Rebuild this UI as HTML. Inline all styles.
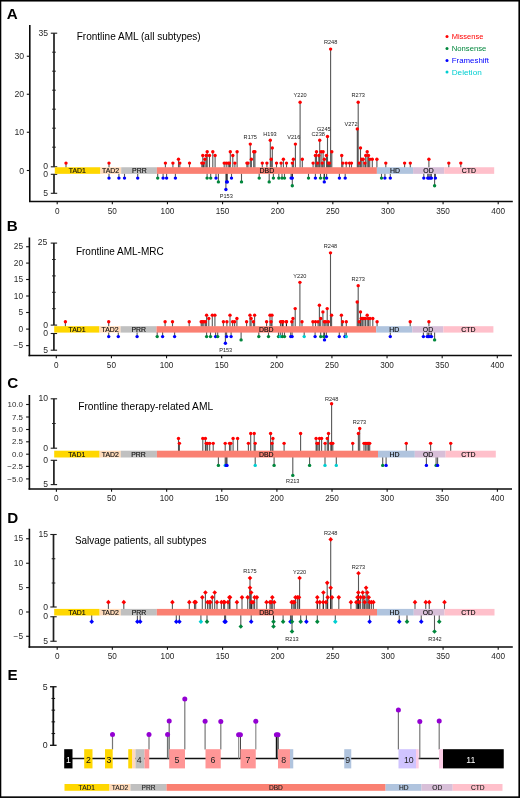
<!DOCTYPE html><html><head><meta charset="utf-8"><style>html,body{margin:0;padding:0;background:#fff;width:520px;height:798px;overflow:hidden}svg{display:block;will-change:transform}</style></head><body><svg width="520" height="798" viewBox="0 0 520 798" font-family='"Liberation Sans", sans-serif'>
<rect width="520" height="798" fill="#fff"/>
<text x="6.8" y="19" font-size="15.2" font-weight="bold" fill="#000">A</text>
<line x1="29.8" y1="25" x2="29.8" y2="202.1" stroke="#0a0a0a" stroke-width="1.6"/>
<line x1="29.0" y1="201.4" x2="512.8" y2="201.4" stroke="#0a0a0a" stroke-width="1.5"/>
<line x1="26.8" y1="56.25" x2="29.8" y2="56.25" stroke="#111" stroke-width="1.1"/>
<text x="24.2" y="59.25" font-size="8.7" text-anchor="end" fill="#2a2a2a">30</text>
<line x1="26.8" y1="94.25" x2="29.8" y2="94.25" stroke="#111" stroke-width="1.1"/>
<text x="24.2" y="97.25" font-size="8.7" text-anchor="end" fill="#2a2a2a">20</text>
<line x1="26.8" y1="132.25" x2="29.8" y2="132.25" stroke="#111" stroke-width="1.1"/>
<text x="24.2" y="135.25" font-size="8.7" text-anchor="end" fill="#2a2a2a">10</text>
<line x1="26.8" y1="170.5" x2="29.8" y2="170.5" stroke="#111" stroke-width="1.1"/>
<text x="24.2" y="173.5" font-size="8.7" text-anchor="end" fill="#2a2a2a">0</text>
<line x1="57.2" y1="201.4" x2="57.2" y2="204.20000000000002" stroke="#111" stroke-width="1.1"/>
<text x="57.2" y="213.5" font-size="8.2" text-anchor="middle" fill="#262626">0</text>
<line x1="112.325" y1="201.4" x2="112.325" y2="204.20000000000002" stroke="#111" stroke-width="1.1"/>
<text x="112.325" y="213.5" font-size="8.2" text-anchor="middle" fill="#262626">50</text>
<line x1="167.45" y1="201.4" x2="167.45" y2="204.20000000000002" stroke="#111" stroke-width="1.1"/>
<text x="167.45" y="213.5" font-size="8.2" text-anchor="middle" fill="#262626">100</text>
<line x1="222.575" y1="201.4" x2="222.575" y2="204.20000000000002" stroke="#111" stroke-width="1.1"/>
<text x="222.575" y="213.5" font-size="8.2" text-anchor="middle" fill="#262626">150</text>
<line x1="277.7" y1="201.4" x2="277.7" y2="204.20000000000002" stroke="#111" stroke-width="1.1"/>
<text x="277.7" y="213.5" font-size="8.2" text-anchor="middle" fill="#262626">200</text>
<line x1="332.825" y1="201.4" x2="332.825" y2="204.20000000000002" stroke="#111" stroke-width="1.1"/>
<text x="332.825" y="213.5" font-size="8.2" text-anchor="middle" fill="#262626">250</text>
<line x1="387.95" y1="201.4" x2="387.95" y2="204.20000000000002" stroke="#111" stroke-width="1.1"/>
<text x="387.95" y="213.5" font-size="8.2" text-anchor="middle" fill="#262626">300</text>
<line x1="443.075" y1="201.4" x2="443.075" y2="204.20000000000002" stroke="#111" stroke-width="1.1"/>
<text x="443.075" y="213.5" font-size="8.2" text-anchor="middle" fill="#262626">350</text>
<line x1="498.2" y1="201.4" x2="498.2" y2="204.20000000000002" stroke="#111" stroke-width="1.1"/>
<text x="498.2" y="213.5" font-size="8.2" text-anchor="middle" fill="#262626">400</text>
<line x1="54" y1="33.2" x2="54" y2="166.8" stroke="#1e1e1e" stroke-width="1.7"/>
<line x1="52.2" y1="52.2" x2="55.8" y2="52.2" stroke="#1e1e1e" stroke-width="1"/>
<line x1="52.2" y1="71.2" x2="55.8" y2="71.2" stroke="#1e1e1e" stroke-width="1"/>
<line x1="52.2" y1="90.2" x2="55.8" y2="90.2" stroke="#1e1e1e" stroke-width="1"/>
<line x1="52.2" y1="109.2" x2="55.8" y2="109.2" stroke="#1e1e1e" stroke-width="1"/>
<line x1="52.2" y1="128.2" x2="55.8" y2="128.2" stroke="#1e1e1e" stroke-width="1"/>
<line x1="52.2" y1="147.2" x2="55.8" y2="147.2" stroke="#1e1e1e" stroke-width="1"/>
<line x1="50.8" y1="33.2" x2="57.2" y2="33.2" stroke="#1e1e1e" stroke-width="1.1"/>
<line x1="50.8" y1="166.8" x2="57.2" y2="166.8" stroke="#1e1e1e" stroke-width="1.1"/>
<text x="48" y="35.800000000000004" font-size="8.6" text-anchor="end" fill="#2a2a2a">35</text>
<text x="48" y="169.4" font-size="8.6" text-anchor="end" fill="#2a2a2a">0</text>
<line x1="54" y1="174.3" x2="54" y2="193.3" stroke="#1e1e1e" stroke-width="1.7"/>
<line x1="50.8" y1="174.3" x2="57.2" y2="174.3" stroke="#1e1e1e" stroke-width="1.1"/>
<line x1="50.8" y1="193.3" x2="57.2" y2="193.3" stroke="#1e1e1e" stroke-width="1.1"/>
<text x="48" y="176.9" font-size="8.6" text-anchor="end" fill="#2a2a2a">0</text>
<text x="48" y="195.70000000000002" font-size="8.6" text-anchor="end" fill="#2a2a2a">5</text>
<text x="76.7" y="40.3" font-size="10.2" textLength="124" lengthAdjust="spacingAndGlyphs" fill="#000">Frontline AML (all subtypes)</text>
<line x1="66" y1="167.75" x2="66" y2="163.1" stroke="#000" stroke-width="1.1" stroke-opacity="0.66"/>
<line x1="109" y1="167.75" x2="109" y2="163.1" stroke="#000" stroke-width="1.1" stroke-opacity="0.66"/>
<line x1="165.4" y1="167.75" x2="165.4" y2="163.1" stroke="#000" stroke-width="1.1" stroke-opacity="0.66"/>
<line x1="172.9" y1="167.75" x2="172.9" y2="163.1" stroke="#000" stroke-width="1.1" stroke-opacity="0.66"/>
<line x1="178.5" y1="167.75" x2="178.5" y2="159.3" stroke="#000" stroke-width="1.1" stroke-opacity="0.66"/>
<line x1="179.8" y1="167.75" x2="179.8" y2="163.1" stroke="#000" stroke-width="1.1" stroke-opacity="0.66"/>
<line x1="189.5" y1="167.75" x2="189.5" y2="163.1" stroke="#000" stroke-width="1.1" stroke-opacity="0.66"/>
<line x1="201.8" y1="167.75" x2="201.8" y2="163.1" stroke="#000" stroke-width="1.1" stroke-opacity="0.66"/>
<line x1="203.5" y1="167.75" x2="203.5" y2="163.1" stroke="#000" stroke-width="1.1" stroke-opacity="0.66"/>
<line x1="202.8" y1="167.75" x2="202.8" y2="155.5" stroke="#000" stroke-width="1.1" stroke-opacity="0.66"/>
<line x1="204.9" y1="167.75" x2="204.9" y2="159.3" stroke="#000" stroke-width="1.1" stroke-opacity="0.66"/>
<line x1="206.2" y1="167.75" x2="206.2" y2="155.5" stroke="#000" stroke-width="1.1" stroke-opacity="0.66"/>
<line x1="207.2" y1="167.75" x2="207.2" y2="151.70000000000002" stroke="#000" stroke-width="1.1" stroke-opacity="0.66"/>
<line x1="209.5" y1="167.75" x2="209.5" y2="155.5" stroke="#000" stroke-width="1.1" stroke-opacity="0.66"/>
<line x1="212.8" y1="167.75" x2="212.8" y2="151.70000000000002" stroke="#000" stroke-width="1.1" stroke-opacity="0.66"/>
<line x1="215.1" y1="167.75" x2="215.1" y2="155.5" stroke="#000" stroke-width="1.1" stroke-opacity="0.66"/>
<line x1="224.2" y1="167.75" x2="224.2" y2="163.1" stroke="#000" stroke-width="1.1" stroke-opacity="0.66"/>
<line x1="226.2" y1="167.75" x2="226.2" y2="163.1" stroke="#000" stroke-width="1.1" stroke-opacity="0.66"/>
<line x1="228.2" y1="167.75" x2="228.2" y2="163.1" stroke="#000" stroke-width="1.1" stroke-opacity="0.66"/>
<line x1="229.5" y1="167.75" x2="229.5" y2="163.1" stroke="#000" stroke-width="1.1" stroke-opacity="0.66"/>
<line x1="230.3" y1="167.75" x2="230.3" y2="151.70000000000002" stroke="#000" stroke-width="1.1" stroke-opacity="0.66"/>
<line x1="232.8" y1="167.75" x2="232.8" y2="155.5" stroke="#000" stroke-width="1.1" stroke-opacity="0.66"/>
<line x1="234.9" y1="167.75" x2="234.9" y2="163.1" stroke="#000" stroke-width="1.1" stroke-opacity="0.66"/>
<line x1="237.1" y1="167.75" x2="237.1" y2="151.70000000000002" stroke="#000" stroke-width="1.1" stroke-opacity="0.66"/>
<line x1="246.9" y1="167.75" x2="246.9" y2="163.1" stroke="#000" stroke-width="1.1" stroke-opacity="0.66"/>
<line x1="248" y1="167.75" x2="248" y2="163.1" stroke="#000" stroke-width="1.1" stroke-opacity="0.66"/>
<line x1="250.3" y1="167.75" x2="250.3" y2="144.10000000000002" stroke="#000" stroke-width="1.1" stroke-opacity="0.66"/>
<line x1="251.4" y1="167.75" x2="251.4" y2="159.3" stroke="#000" stroke-width="1.1" stroke-opacity="0.66"/>
<line x1="253.7" y1="167.75" x2="253.7" y2="151.70000000000002" stroke="#000" stroke-width="1.1" stroke-opacity="0.66"/>
<line x1="254.9" y1="167.75" x2="254.9" y2="151.70000000000002" stroke="#000" stroke-width="1.1" stroke-opacity="0.66"/>
<line x1="262.3" y1="167.75" x2="262.3" y2="163.1" stroke="#000" stroke-width="1.1" stroke-opacity="0.66"/>
<line x1="266.9" y1="167.75" x2="266.9" y2="163.1" stroke="#000" stroke-width="1.1" stroke-opacity="0.66"/>
<line x1="270.3" y1="167.75" x2="270.3" y2="140.3" stroke="#000" stroke-width="1.1" stroke-opacity="0.66"/>
<line x1="272.3" y1="167.75" x2="272.3" y2="147.9" stroke="#000" stroke-width="1.1" stroke-opacity="0.66"/>
<line x1="271.2" y1="167.75" x2="271.2" y2="159.3" stroke="#000" stroke-width="1.1" stroke-opacity="0.66"/>
<line x1="276.5" y1="167.75" x2="276.5" y2="163.1" stroke="#000" stroke-width="1.1" stroke-opacity="0.66"/>
<line x1="281.1" y1="167.75" x2="281.1" y2="163.1" stroke="#000" stroke-width="1.1" stroke-opacity="0.66"/>
<line x1="283.4" y1="167.75" x2="283.4" y2="159.3" stroke="#000" stroke-width="1.1" stroke-opacity="0.66"/>
<line x1="286.5" y1="167.75" x2="286.5" y2="163.1" stroke="#000" stroke-width="1.1" stroke-opacity="0.66"/>
<line x1="292.3" y1="167.75" x2="292.3" y2="163.1" stroke="#000" stroke-width="1.1" stroke-opacity="0.66"/>
<line x1="293.4" y1="167.75" x2="293.4" y2="159.3" stroke="#000" stroke-width="1.1" stroke-opacity="0.66"/>
<line x1="295.4" y1="167.75" x2="295.4" y2="144.10000000000002" stroke="#000" stroke-width="1.1" stroke-opacity="0.66"/>
<line x1="300.1" y1="167.75" x2="300.1" y2="102.30000000000001" stroke="#000" stroke-width="1.1" stroke-opacity="0.66"/>
<line x1="302.3" y1="167.75" x2="302.3" y2="159.3" stroke="#000" stroke-width="1.1" stroke-opacity="0.66"/>
<line x1="313.1" y1="167.75" x2="313.1" y2="163.1" stroke="#000" stroke-width="1.1" stroke-opacity="0.66"/>
<line x1="315.4" y1="167.75" x2="315.4" y2="155.5" stroke="#000" stroke-width="1.1" stroke-opacity="0.66"/>
<line x1="316.5" y1="167.75" x2="316.5" y2="151.70000000000002" stroke="#000" stroke-width="1.1" stroke-opacity="0.66"/>
<line x1="317.7" y1="167.75" x2="317.7" y2="163.1" stroke="#000" stroke-width="1.1" stroke-opacity="0.66"/>
<line x1="318.8" y1="167.75" x2="318.8" y2="155.5" stroke="#000" stroke-width="1.1" stroke-opacity="0.66"/>
<line x1="319.7" y1="167.75" x2="319.7" y2="140.3" stroke="#000" stroke-width="1.1" stroke-opacity="0.66"/>
<line x1="321.1" y1="167.75" x2="321.1" y2="151.70000000000002" stroke="#000" stroke-width="1.1" stroke-opacity="0.66"/>
<line x1="322.2" y1="167.75" x2="322.2" y2="163.1" stroke="#000" stroke-width="1.1" stroke-opacity="0.66"/>
<line x1="323.1" y1="167.75" x2="323.1" y2="151.70000000000002" stroke="#000" stroke-width="1.1" stroke-opacity="0.66"/>
<line x1="324.3" y1="167.75" x2="324.3" y2="159.3" stroke="#000" stroke-width="1.1" stroke-opacity="0.66"/>
<line x1="326.5" y1="167.75" x2="326.5" y2="155.5" stroke="#000" stroke-width="1.1" stroke-opacity="0.66"/>
<line x1="327.5" y1="167.75" x2="327.5" y2="136.5" stroke="#000" stroke-width="1.1" stroke-opacity="0.66"/>
<line x1="328.5" y1="167.75" x2="328.5" y2="163.1" stroke="#000" stroke-width="1.1" stroke-opacity="0.66"/>
<line x1="329.5" y1="167.75" x2="329.5" y2="163.1" stroke="#000" stroke-width="1.1" stroke-opacity="0.66"/>
<line x1="330.6" y1="167.75" x2="330.6" y2="49.10000000000001" stroke="#000" stroke-width="1.1" stroke-opacity="0.66"/>
<line x1="331.8" y1="167.75" x2="331.8" y2="151.70000000000002" stroke="#000" stroke-width="1.1" stroke-opacity="0.66"/>
<line x1="341.7" y1="167.75" x2="341.7" y2="155.5" stroke="#000" stroke-width="1.1" stroke-opacity="0.66"/>
<line x1="342.8" y1="167.75" x2="342.8" y2="163.1" stroke="#000" stroke-width="1.1" stroke-opacity="0.66"/>
<line x1="346.2" y1="167.75" x2="346.2" y2="163.1" stroke="#000" stroke-width="1.1" stroke-opacity="0.66"/>
<line x1="349.5" y1="167.75" x2="349.5" y2="163.1" stroke="#000" stroke-width="1.1" stroke-opacity="0.66"/>
<line x1="351.5" y1="167.75" x2="351.5" y2="163.1" stroke="#000" stroke-width="1.1" stroke-opacity="0.66"/>
<line x1="357.3" y1="167.75" x2="357.3" y2="128.9" stroke="#000" stroke-width="1.1" stroke-opacity="0.66"/>
<line x1="358.2" y1="167.75" x2="358.2" y2="102.30000000000001" stroke="#000" stroke-width="1.1" stroke-opacity="0.66"/>
<line x1="359.2" y1="167.75" x2="359.2" y2="163.1" stroke="#000" stroke-width="1.1" stroke-opacity="0.66"/>
<line x1="360.5" y1="167.75" x2="360.5" y2="147.9" stroke="#000" stroke-width="1.1" stroke-opacity="0.66"/>
<line x1="361.7" y1="167.75" x2="361.7" y2="159.3" stroke="#000" stroke-width="1.1" stroke-opacity="0.66"/>
<line x1="363.2" y1="167.75" x2="363.2" y2="159.3" stroke="#000" stroke-width="1.1" stroke-opacity="0.66"/>
<line x1="364.9" y1="167.75" x2="364.9" y2="163.1" stroke="#000" stroke-width="1.1" stroke-opacity="0.66"/>
<line x1="365.7" y1="167.75" x2="365.7" y2="155.5" stroke="#000" stroke-width="1.1" stroke-opacity="0.66"/>
<line x1="367.2" y1="167.75" x2="367.2" y2="151.70000000000002" stroke="#000" stroke-width="1.1" stroke-opacity="0.66"/>
<line x1="368.5" y1="167.75" x2="368.5" y2="155.5" stroke="#000" stroke-width="1.1" stroke-opacity="0.66"/>
<line x1="369.7" y1="167.75" x2="369.7" y2="159.3" stroke="#000" stroke-width="1.1" stroke-opacity="0.66"/>
<line x1="372.3" y1="167.75" x2="372.3" y2="159.3" stroke="#000" stroke-width="1.1" stroke-opacity="0.66"/>
<line x1="376.9" y1="167.75" x2="376.9" y2="159.3" stroke="#000" stroke-width="1.1" stroke-opacity="0.66"/>
<line x1="385.8" y1="167.75" x2="385.8" y2="163.1" stroke="#000" stroke-width="1.1" stroke-opacity="0.66"/>
<line x1="404.6" y1="167.75" x2="404.6" y2="163.1" stroke="#000" stroke-width="1.1" stroke-opacity="0.66"/>
<line x1="410.3" y1="167.75" x2="410.3" y2="163.1" stroke="#000" stroke-width="1.1" stroke-opacity="0.66"/>
<line x1="428.9" y1="167.75" x2="428.9" y2="159.3" stroke="#000" stroke-width="1.1" stroke-opacity="0.66"/>
<line x1="448.8" y1="167.75" x2="448.8" y2="163.1" stroke="#000" stroke-width="1.1" stroke-opacity="0.66"/>
<line x1="460.8" y1="167.75" x2="460.8" y2="163.1" stroke="#000" stroke-width="1.1" stroke-opacity="0.66"/>
<line x1="109" y1="173.35" x2="109" y2="178.10000000000002" stroke="#000" stroke-width="1.1" stroke-opacity="0.66"/>
<line x1="118.9" y1="173.35" x2="118.9" y2="178.10000000000002" stroke="#000" stroke-width="1.1" stroke-opacity="0.66"/>
<line x1="124.5" y1="173.35" x2="124.5" y2="178.10000000000002" stroke="#000" stroke-width="1.1" stroke-opacity="0.66"/>
<line x1="137.7" y1="173.35" x2="137.7" y2="178.10000000000002" stroke="#000" stroke-width="1.1" stroke-opacity="0.66"/>
<line x1="157.7" y1="173.35" x2="157.7" y2="178.10000000000002" stroke="#000" stroke-width="1.1" stroke-opacity="0.66"/>
<line x1="163.1" y1="173.35" x2="163.1" y2="178.10000000000002" stroke="#000" stroke-width="1.1" stroke-opacity="0.66"/>
<line x1="166.6" y1="173.35" x2="166.6" y2="178.10000000000002" stroke="#000" stroke-width="1.1" stroke-opacity="0.66"/>
<line x1="175.4" y1="173.35" x2="175.4" y2="178.10000000000002" stroke="#000" stroke-width="1.1" stroke-opacity="0.66"/>
<line x1="207.1" y1="173.35" x2="207.1" y2="178.10000000000002" stroke="#000" stroke-width="1.1" stroke-opacity="0.66"/>
<line x1="210.7" y1="173.35" x2="210.7" y2="178.10000000000002" stroke="#000" stroke-width="1.1" stroke-opacity="0.66"/>
<line x1="216" y1="173.35" x2="216" y2="178.10000000000002" stroke="#000" stroke-width="1.1" stroke-opacity="0.66"/>
<line x1="218.4" y1="173.35" x2="218.4" y2="181.9" stroke="#000" stroke-width="1.1" stroke-opacity="0.66"/>
<line x1="225.9" y1="173.35" x2="225.9" y2="189.5" stroke="#000" stroke-width="1.1" stroke-opacity="0.66"/>
<line x1="226.6" y1="173.35" x2="226.6" y2="181.9" stroke="#000" stroke-width="1.1" stroke-opacity="0.66"/>
<line x1="227.3" y1="173.35" x2="227.3" y2="181.9" stroke="#000" stroke-width="1.1" stroke-opacity="0.66"/>
<line x1="231.5" y1="173.35" x2="231.5" y2="178.10000000000002" stroke="#000" stroke-width="1.1" stroke-opacity="0.66"/>
<line x1="241.5" y1="173.35" x2="241.5" y2="181.9" stroke="#000" stroke-width="1.1" stroke-opacity="0.66"/>
<line x1="259.2" y1="173.35" x2="259.2" y2="178.10000000000002" stroke="#000" stroke-width="1.1" stroke-opacity="0.66"/>
<line x1="269.2" y1="173.35" x2="269.2" y2="181.9" stroke="#000" stroke-width="1.1" stroke-opacity="0.66"/>
<line x1="273.4" y1="173.35" x2="273.4" y2="178.10000000000002" stroke="#000" stroke-width="1.1" stroke-opacity="0.66"/>
<line x1="278.8" y1="173.35" x2="278.8" y2="178.10000000000002" stroke="#000" stroke-width="1.1" stroke-opacity="0.66"/>
<line x1="282" y1="173.35" x2="282" y2="178.10000000000002" stroke="#000" stroke-width="1.1" stroke-opacity="0.66"/>
<line x1="284.5" y1="173.35" x2="284.5" y2="178.10000000000002" stroke="#000" stroke-width="1.1" stroke-opacity="0.66"/>
<line x1="291.1" y1="173.35" x2="291.1" y2="178.10000000000002" stroke="#000" stroke-width="1.1" stroke-opacity="0.66"/>
<line x1="292.3" y1="173.35" x2="292.3" y2="178.10000000000002" stroke="#000" stroke-width="1.1" stroke-opacity="0.66"/>
<line x1="292.3" y1="173.35" x2="292.3" y2="185.70000000000002" stroke="#000" stroke-width="1.1" stroke-opacity="0.66"/>
<line x1="308.5" y1="173.35" x2="308.5" y2="178.10000000000002" stroke="#000" stroke-width="1.1" stroke-opacity="0.66"/>
<line x1="315.4" y1="173.35" x2="315.4" y2="178.10000000000002" stroke="#000" stroke-width="1.1" stroke-opacity="0.66"/>
<line x1="320.5" y1="173.35" x2="320.5" y2="178.10000000000002" stroke="#000" stroke-width="1.1" stroke-opacity="0.66"/>
<line x1="324.3" y1="173.35" x2="324.3" y2="181.9" stroke="#000" stroke-width="1.1" stroke-opacity="0.66"/>
<line x1="324.3" y1="173.35" x2="324.3" y2="178.10000000000002" stroke="#000" stroke-width="1.1" stroke-opacity="0.66"/>
<line x1="326.6" y1="173.35" x2="326.6" y2="178.10000000000002" stroke="#000" stroke-width="1.1" stroke-opacity="0.66"/>
<line x1="339.4" y1="173.35" x2="339.4" y2="178.10000000000002" stroke="#000" stroke-width="1.1" stroke-opacity="0.66"/>
<line x1="345.2" y1="173.35" x2="345.2" y2="178.10000000000002" stroke="#000" stroke-width="1.1" stroke-opacity="0.66"/>
<line x1="381.5" y1="173.35" x2="381.5" y2="178.10000000000002" stroke="#000" stroke-width="1.1" stroke-opacity="0.66"/>
<line x1="384.9" y1="173.35" x2="384.9" y2="178.10000000000002" stroke="#000" stroke-width="1.1" stroke-opacity="0.66"/>
<line x1="390.3" y1="173.35" x2="390.3" y2="178.10000000000002" stroke="#000" stroke-width="1.1" stroke-opacity="0.66"/>
<line x1="423.8" y1="173.35" x2="423.8" y2="178.10000000000002" stroke="#000" stroke-width="1.1" stroke-opacity="0.66"/>
<line x1="427.7" y1="173.35" x2="427.7" y2="178.10000000000002" stroke="#000" stroke-width="1.1" stroke-opacity="0.66"/>
<line x1="428.9" y1="173.35" x2="428.9" y2="178.10000000000002" stroke="#000" stroke-width="1.1" stroke-opacity="0.66"/>
<line x1="430.2" y1="173.35" x2="430.2" y2="178.10000000000002" stroke="#000" stroke-width="1.1" stroke-opacity="0.66"/>
<line x1="431.4" y1="173.35" x2="431.4" y2="178.10000000000002" stroke="#000" stroke-width="1.1" stroke-opacity="0.66"/>
<line x1="435.4" y1="173.35" x2="435.4" y2="178.10000000000002" stroke="#000" stroke-width="1.1" stroke-opacity="0.66"/>
<line x1="434.6" y1="173.35" x2="434.6" y2="185.70000000000002" stroke="#000" stroke-width="1.1" stroke-opacity="0.66"/>
<rect x="54.80" y="167.25" width="45.60" height="6.60" fill="#ffd700"/>
<rect x="100.40" y="167.25" width="20.80" height="6.60" fill="#ffdab9"/>
<rect x="121.20" y="167.25" width="35.70" height="6.60" fill="#c0c0c0"/>
<rect x="156.90" y="167.25" width="220.00" height="6.60" fill="#fa8072"/>
<rect x="376.90" y="167.25" width="36.20" height="6.60" fill="#b0c4de"/>
<rect x="413.10" y="167.25" width="31.10" height="6.60" fill="#d8bfd8"/>
<rect x="444.20" y="167.25" width="50.00" height="6.60" fill="#ffc0cb"/>
<text x="77.3" y="173.05" font-size="6.9" text-anchor="middle" fill="#111" stroke="#111" stroke-width="0.15">TAD1</text>
<text x="110.6" y="173.05" font-size="6.9" text-anchor="middle" fill="#111" stroke="#111" stroke-width="0.15">TAD2</text>
<text x="139.4" y="173.05" font-size="6.9" text-anchor="middle" fill="#111" stroke="#111" stroke-width="0.15">PRR</text>
<text x="266.9" y="173.05" font-size="6.9" text-anchor="middle" fill="#111" stroke="#111" stroke-width="0.15">DBD</text>
<text x="394.9" y="173.05" font-size="6.9" text-anchor="middle" fill="#111" stroke="#111" stroke-width="0.15">HD</text>
<text x="428.5" y="173.05" font-size="6.9" text-anchor="middle" fill="#111" stroke="#111" stroke-width="0.15">OD</text>
<text x="468.9" y="173.05" font-size="6.9" text-anchor="middle" fill="#111" stroke="#111" stroke-width="0.15">CTD</text>
<circle cx="66.00" cy="163.10" r="1.7" fill="#ff0000"/>
<circle cx="109.00" cy="163.10" r="1.7" fill="#ff0000"/>
<circle cx="165.40" cy="163.10" r="1.7" fill="#ff0000"/>
<circle cx="172.90" cy="163.10" r="1.7" fill="#ff0000"/>
<circle cx="178.50" cy="159.30" r="1.7" fill="#ff0000"/>
<circle cx="179.80" cy="163.10" r="1.7" fill="#ff0000"/>
<circle cx="189.50" cy="163.10" r="1.7" fill="#ff0000"/>
<circle cx="201.80" cy="163.10" r="1.7" fill="#ff0000"/>
<circle cx="203.50" cy="163.10" r="1.7" fill="#ff0000"/>
<circle cx="202.80" cy="155.50" r="1.7" fill="#ff0000"/>
<circle cx="204.90" cy="159.30" r="1.7" fill="#ff0000"/>
<circle cx="206.20" cy="155.50" r="1.7" fill="#ff0000"/>
<circle cx="207.20" cy="151.70" r="1.7" fill="#ff0000"/>
<circle cx="209.50" cy="155.50" r="1.7" fill="#ff0000"/>
<circle cx="212.80" cy="151.70" r="1.7" fill="#ff0000"/>
<circle cx="215.10" cy="155.50" r="1.7" fill="#ff0000"/>
<circle cx="224.20" cy="163.10" r="1.7" fill="#ff0000"/>
<circle cx="226.20" cy="163.10" r="1.7" fill="#ff0000"/>
<circle cx="228.20" cy="163.10" r="1.7" fill="#ff0000"/>
<circle cx="229.50" cy="163.10" r="1.7" fill="#ff0000"/>
<circle cx="230.30" cy="151.70" r="1.7" fill="#ff0000"/>
<circle cx="232.80" cy="155.50" r="1.7" fill="#ff0000"/>
<circle cx="234.90" cy="163.10" r="1.7" fill="#ff0000"/>
<circle cx="237.10" cy="151.70" r="1.7" fill="#ff0000"/>
<circle cx="246.90" cy="163.10" r="1.7" fill="#ff0000"/>
<circle cx="248.00" cy="163.10" r="1.7" fill="#ff0000"/>
<circle cx="250.30" cy="144.10" r="1.7" fill="#ff0000"/>
<circle cx="251.40" cy="159.30" r="1.7" fill="#ff0000"/>
<circle cx="253.70" cy="151.70" r="1.7" fill="#ff0000"/>
<circle cx="254.90" cy="151.70" r="1.7" fill="#ff0000"/>
<circle cx="262.30" cy="163.10" r="1.7" fill="#ff0000"/>
<circle cx="266.90" cy="163.10" r="1.7" fill="#ff0000"/>
<circle cx="270.30" cy="140.30" r="1.7" fill="#ff0000"/>
<circle cx="272.30" cy="147.90" r="1.7" fill="#ff0000"/>
<circle cx="271.20" cy="159.30" r="1.7" fill="#ff0000"/>
<circle cx="276.50" cy="163.10" r="1.7" fill="#ff0000"/>
<circle cx="281.10" cy="163.10" r="1.7" fill="#ff0000"/>
<circle cx="283.40" cy="159.30" r="1.7" fill="#ff0000"/>
<circle cx="286.50" cy="163.10" r="1.7" fill="#ff0000"/>
<circle cx="292.30" cy="163.10" r="1.7" fill="#ff0000"/>
<circle cx="293.40" cy="159.30" r="1.7" fill="#ff0000"/>
<circle cx="295.40" cy="144.10" r="1.7" fill="#ff0000"/>
<circle cx="300.10" cy="102.30" r="1.7" fill="#ff0000"/>
<circle cx="302.30" cy="159.30" r="1.7" fill="#ff0000"/>
<circle cx="313.10" cy="163.10" r="1.7" fill="#ff0000"/>
<circle cx="315.40" cy="155.50" r="1.7" fill="#ff0000"/>
<circle cx="316.50" cy="151.70" r="1.7" fill="#ff0000"/>
<circle cx="317.70" cy="163.10" r="1.7" fill="#ff0000"/>
<circle cx="318.80" cy="155.50" r="1.7" fill="#ff0000"/>
<circle cx="319.70" cy="140.30" r="1.7" fill="#ff0000"/>
<circle cx="321.10" cy="151.70" r="1.7" fill="#ff0000"/>
<circle cx="322.20" cy="163.10" r="1.7" fill="#ff0000"/>
<circle cx="323.10" cy="151.70" r="1.7" fill="#ff0000"/>
<circle cx="324.30" cy="159.30" r="1.7" fill="#ff0000"/>
<circle cx="326.50" cy="155.50" r="1.7" fill="#ff0000"/>
<circle cx="327.50" cy="136.50" r="1.7" fill="#ff0000"/>
<circle cx="328.50" cy="163.10" r="1.7" fill="#ff0000"/>
<circle cx="329.50" cy="163.10" r="1.7" fill="#ff0000"/>
<circle cx="330.60" cy="49.10" r="1.7" fill="#ff0000"/>
<circle cx="331.80" cy="151.70" r="1.7" fill="#ff0000"/>
<circle cx="341.70" cy="155.50" r="1.7" fill="#ff0000"/>
<circle cx="342.80" cy="163.10" r="1.7" fill="#ff0000"/>
<circle cx="346.20" cy="163.10" r="1.7" fill="#ff0000"/>
<circle cx="349.50" cy="163.10" r="1.7" fill="#ff0000"/>
<circle cx="351.50" cy="163.10" r="1.7" fill="#ff0000"/>
<circle cx="357.30" cy="128.90" r="1.7" fill="#ff0000"/>
<circle cx="358.20" cy="102.30" r="1.7" fill="#ff0000"/>
<circle cx="359.20" cy="163.10" r="1.7" fill="#ff0000"/>
<circle cx="360.50" cy="147.90" r="1.7" fill="#ff0000"/>
<circle cx="361.70" cy="159.30" r="1.7" fill="#ff0000"/>
<circle cx="363.20" cy="159.30" r="1.7" fill="#ff0000"/>
<circle cx="364.90" cy="163.10" r="1.7" fill="#ff0000"/>
<circle cx="365.70" cy="155.50" r="1.7" fill="#ff0000"/>
<circle cx="367.20" cy="151.70" r="1.7" fill="#ff0000"/>
<circle cx="368.50" cy="155.50" r="1.7" fill="#ff0000"/>
<circle cx="369.70" cy="159.30" r="1.7" fill="#ff0000"/>
<circle cx="372.30" cy="159.30" r="1.7" fill="#ff0000"/>
<circle cx="376.90" cy="159.30" r="1.7" fill="#ff0000"/>
<circle cx="385.80" cy="163.10" r="1.7" fill="#ff0000"/>
<circle cx="404.60" cy="163.10" r="1.7" fill="#ff0000"/>
<circle cx="410.30" cy="163.10" r="1.7" fill="#ff0000"/>
<circle cx="428.90" cy="159.30" r="1.7" fill="#ff0000"/>
<circle cx="448.80" cy="163.10" r="1.7" fill="#ff0000"/>
<circle cx="460.80" cy="163.10" r="1.7" fill="#ff0000"/>
<circle cx="109.00" cy="178.10" r="1.7" fill="#0000ff"/>
<circle cx="118.90" cy="178.10" r="1.7" fill="#0000ff"/>
<circle cx="124.50" cy="178.10" r="1.7" fill="#0000ff"/>
<circle cx="137.70" cy="178.10" r="1.7" fill="#0000ff"/>
<circle cx="157.70" cy="178.10" r="1.7" fill="#00873c"/>
<circle cx="163.10" cy="178.10" r="1.7" fill="#0000ff"/>
<circle cx="166.60" cy="178.10" r="1.7" fill="#0000ff"/>
<circle cx="175.40" cy="178.10" r="1.7" fill="#0000ff"/>
<circle cx="207.10" cy="178.10" r="1.7" fill="#00873c"/>
<circle cx="210.70" cy="178.10" r="1.7" fill="#00873c"/>
<circle cx="216.00" cy="178.10" r="1.7" fill="#0000ff"/>
<circle cx="218.40" cy="181.90" r="1.7" fill="#00873c"/>
<circle cx="225.90" cy="189.50" r="1.7" fill="#0000ff"/>
<circle cx="226.60" cy="181.90" r="1.7" fill="#0000ff"/>
<circle cx="227.30" cy="181.90" r="1.7" fill="#0000ff"/>
<circle cx="231.50" cy="178.10" r="1.7" fill="#0000ff"/>
<circle cx="241.50" cy="181.90" r="1.7" fill="#00873c"/>
<circle cx="259.20" cy="178.10" r="1.7" fill="#00873c"/>
<circle cx="269.20" cy="181.90" r="1.7" fill="#00873c"/>
<circle cx="273.40" cy="178.10" r="1.7" fill="#00873c"/>
<circle cx="278.80" cy="178.10" r="1.7" fill="#00873c"/>
<circle cx="282.00" cy="178.10" r="1.7" fill="#00873c"/>
<circle cx="284.50" cy="178.10" r="1.7" fill="#00873c"/>
<circle cx="291.10" cy="178.10" r="1.7" fill="#0000ff"/>
<circle cx="292.30" cy="178.10" r="1.7" fill="#0000ff"/>
<circle cx="292.30" cy="185.70" r="1.7" fill="#00873c"/>
<circle cx="308.50" cy="178.10" r="1.7" fill="#00873c"/>
<circle cx="315.40" cy="178.10" r="1.7" fill="#0000ff"/>
<circle cx="320.50" cy="178.10" r="1.7" fill="#00873c"/>
<circle cx="324.30" cy="181.90" r="1.7" fill="#0000ff"/>
<circle cx="324.30" cy="178.10" r="1.7" fill="#00873c"/>
<circle cx="326.60" cy="178.10" r="1.7" fill="#0000ff"/>
<circle cx="339.40" cy="178.10" r="1.7" fill="#0000ff"/>
<circle cx="345.20" cy="178.10" r="1.7" fill="#0000ff"/>
<circle cx="381.50" cy="178.10" r="1.7" fill="#00873c"/>
<circle cx="384.90" cy="178.10" r="1.7" fill="#0000ff"/>
<circle cx="390.30" cy="178.10" r="1.7" fill="#0000ff"/>
<circle cx="423.80" cy="178.10" r="1.7" fill="#0000ff"/>
<circle cx="427.70" cy="178.10" r="1.7" fill="#0000ff"/>
<circle cx="428.90" cy="178.10" r="1.7" fill="#0000ff"/>
<circle cx="430.20" cy="178.10" r="1.7" fill="#0000ff"/>
<circle cx="431.40" cy="178.10" r="1.7" fill="#0000ff"/>
<circle cx="435.40" cy="178.10" r="1.7" fill="#0000ff"/>
<circle cx="434.60" cy="185.70" r="1.7" fill="#00873c"/>
<text x="330.6" y="43.8" font-size="5.6" text-anchor="middle" fill="#222">R248</text>
<text x="300.1" y="97.4" font-size="5.6" text-anchor="middle" fill="#222">Y220</text>
<text x="358.2" y="97.4" font-size="5.6" text-anchor="middle" fill="#222">R273</text>
<text x="250.3" y="139.4" font-size="5.6" text-anchor="middle" fill="#222">R175</text>
<text x="270" y="135.8" font-size="5.6" text-anchor="middle" fill="#222">H193</text>
<text x="293.8" y="139.4" font-size="5.6" text-anchor="middle" fill="#222">V216</text>
<text x="318.2" y="135.8" font-size="5.6" text-anchor="middle" fill="#222">C238</text>
<text x="323.8" y="130.8" font-size="5.6" text-anchor="middle" fill="#222">G245</text>
<text x="351" y="126.2" font-size="5.6" text-anchor="middle" fill="#222">V272</text>
<text x="226.3" y="198.1" font-size="5.6" text-anchor="middle" fill="#222">P153</text>
<text x="6.8" y="231.3" font-size="15.2" font-weight="bold" fill="#000">B</text>
<line x1="29.4" y1="237.5" x2="29.4" y2="356.2" stroke="#0a0a0a" stroke-width="1.6"/>
<line x1="28.599999999999998" y1="355.5" x2="511.9" y2="355.5" stroke="#0a0a0a" stroke-width="1.5"/>
<line x1="26.1" y1="246.75" x2="29.4" y2="246.75" stroke="#111" stroke-width="1.1"/>
<text x="23.0" y="249.4" font-size="8.3" text-anchor="end" fill="#2a2a2a">25</text>
<line x1="26.1" y1="263.1" x2="29.4" y2="263.1" stroke="#111" stroke-width="1.1"/>
<text x="23.0" y="265.75" font-size="8.3" text-anchor="end" fill="#2a2a2a">20</text>
<line x1="26.1" y1="279.5" x2="29.4" y2="279.5" stroke="#111" stroke-width="1.1"/>
<text x="23.0" y="282.15" font-size="8.3" text-anchor="end" fill="#2a2a2a">15</text>
<line x1="26.1" y1="296" x2="29.4" y2="296" stroke="#111" stroke-width="1.1"/>
<text x="23.0" y="298.65" font-size="8.3" text-anchor="end" fill="#2a2a2a">10</text>
<line x1="26.1" y1="312.5" x2="29.4" y2="312.5" stroke="#111" stroke-width="1.1"/>
<text x="23.0" y="315.15" font-size="8.3" text-anchor="end" fill="#2a2a2a">5</text>
<line x1="26.1" y1="329.1" x2="29.4" y2="329.1" stroke="#111" stroke-width="1.1"/>
<text x="23.0" y="331.75" font-size="8.3" text-anchor="end" fill="#2a2a2a">0</text>
<line x1="26.1" y1="345.6" x2="29.4" y2="345.6" stroke="#111" stroke-width="1.1"/>
<text x="23.0" y="348.25" font-size="8.3" text-anchor="end" fill="#2a2a2a">−5</text>
<line x1="56.300000000000004" y1="355.5" x2="56.300000000000004" y2="358.3" stroke="#111" stroke-width="1.1"/>
<text x="56.300000000000004" y="367.6" font-size="8.2" text-anchor="middle" fill="#262626">0</text>
<line x1="111.42500000000001" y1="355.5" x2="111.42500000000001" y2="358.3" stroke="#111" stroke-width="1.1"/>
<text x="111.42500000000001" y="367.6" font-size="8.2" text-anchor="middle" fill="#262626">50</text>
<line x1="166.55" y1="355.5" x2="166.55" y2="358.3" stroke="#111" stroke-width="1.1"/>
<text x="166.55" y="367.6" font-size="8.2" text-anchor="middle" fill="#262626">100</text>
<line x1="221.675" y1="355.5" x2="221.675" y2="358.3" stroke="#111" stroke-width="1.1"/>
<text x="221.675" y="367.6" font-size="8.2" text-anchor="middle" fill="#262626">150</text>
<line x1="276.8" y1="355.5" x2="276.8" y2="358.3" stroke="#111" stroke-width="1.1"/>
<text x="276.8" y="367.6" font-size="8.2" text-anchor="middle" fill="#262626">200</text>
<line x1="331.925" y1="355.5" x2="331.925" y2="358.3" stroke="#111" stroke-width="1.1"/>
<text x="331.925" y="367.6" font-size="8.2" text-anchor="middle" fill="#262626">250</text>
<line x1="387.05" y1="355.5" x2="387.05" y2="358.3" stroke="#111" stroke-width="1.1"/>
<text x="387.05" y="367.6" font-size="8.2" text-anchor="middle" fill="#262626">300</text>
<line x1="442.175" y1="355.5" x2="442.175" y2="358.3" stroke="#111" stroke-width="1.1"/>
<text x="442.175" y="367.6" font-size="8.2" text-anchor="middle" fill="#262626">350</text>
<line x1="497.3" y1="355.5" x2="497.3" y2="358.3" stroke="#111" stroke-width="1.1"/>
<text x="497.3" y="367.6" font-size="8.2" text-anchor="middle" fill="#262626">400</text>
<line x1="53.9" y1="243.1" x2="53.9" y2="325.1" stroke="#1e1e1e" stroke-width="1.7"/>
<line x1="52.1" y1="259.5" x2="55.699999999999996" y2="259.5" stroke="#1e1e1e" stroke-width="1"/>
<line x1="52.1" y1="275.9" x2="55.699999999999996" y2="275.9" stroke="#1e1e1e" stroke-width="1"/>
<line x1="52.1" y1="292.3" x2="55.699999999999996" y2="292.3" stroke="#1e1e1e" stroke-width="1"/>
<line x1="52.1" y1="308.7" x2="55.699999999999996" y2="308.7" stroke="#1e1e1e" stroke-width="1"/>
<line x1="50.699999999999996" y1="243.1" x2="57.1" y2="243.1" stroke="#1e1e1e" stroke-width="1.1"/>
<line x1="50.699999999999996" y1="325.1" x2="57.1" y2="325.1" stroke="#1e1e1e" stroke-width="1.1"/>
<text x="47.4" y="245.0" font-size="8.6" text-anchor="end" fill="#2a2a2a">25</text>
<text x="48" y="327.70000000000005" font-size="8.6" text-anchor="end" fill="#2a2a2a">0</text>
<line x1="53.9" y1="333.5" x2="53.9" y2="350.2" stroke="#1e1e1e" stroke-width="1.7"/>
<line x1="50.699999999999996" y1="333.5" x2="57.1" y2="333.5" stroke="#1e1e1e" stroke-width="1.1"/>
<line x1="50.699999999999996" y1="350.2" x2="57.1" y2="350.2" stroke="#1e1e1e" stroke-width="1.1"/>
<text x="48" y="336.1" font-size="8.6" text-anchor="end" fill="#2a2a2a">0</text>
<text x="48" y="352.59999999999997" font-size="8.6" text-anchor="end" fill="#2a2a2a">5</text>
<text x="75.9" y="254.8" font-size="10.2" textLength="87.8" lengthAdjust="spacingAndGlyphs" fill="#000">Frontline AML-MRC</text>
<line x1="65.4" y1="326.7" x2="65.4" y2="321.72" stroke="#000" stroke-width="1.1" stroke-opacity="0.66"/>
<line x1="108.7" y1="326.7" x2="108.7" y2="321.72" stroke="#000" stroke-width="1.1" stroke-opacity="0.66"/>
<line x1="165.1" y1="326.7" x2="165.1" y2="321.72" stroke="#000" stroke-width="1.1" stroke-opacity="0.66"/>
<line x1="172.5" y1="326.7" x2="172.5" y2="321.72" stroke="#000" stroke-width="1.1" stroke-opacity="0.66"/>
<line x1="189.2" y1="326.7" x2="189.2" y2="321.72" stroke="#000" stroke-width="1.1" stroke-opacity="0.66"/>
<line x1="201.2" y1="326.7" x2="201.2" y2="321.72" stroke="#000" stroke-width="1.1" stroke-opacity="0.66"/>
<line x1="202.3" y1="326.7" x2="202.3" y2="321.72" stroke="#000" stroke-width="1.1" stroke-opacity="0.66"/>
<line x1="203.8" y1="326.7" x2="203.8" y2="321.72" stroke="#000" stroke-width="1.1" stroke-opacity="0.66"/>
<line x1="205.4" y1="326.7" x2="205.4" y2="321.72" stroke="#000" stroke-width="1.1" stroke-opacity="0.66"/>
<line x1="206.6" y1="326.7" x2="206.6" y2="315.16" stroke="#000" stroke-width="1.1" stroke-opacity="0.66"/>
<line x1="208.8" y1="326.7" x2="208.8" y2="318.44" stroke="#000" stroke-width="1.1" stroke-opacity="0.66"/>
<line x1="212.3" y1="326.7" x2="212.3" y2="315.16" stroke="#000" stroke-width="1.1" stroke-opacity="0.66"/>
<line x1="214.9" y1="326.7" x2="214.9" y2="315.16" stroke="#000" stroke-width="1.1" stroke-opacity="0.66"/>
<line x1="223.4" y1="326.7" x2="223.4" y2="321.72" stroke="#000" stroke-width="1.1" stroke-opacity="0.66"/>
<line x1="226.9" y1="326.7" x2="226.9" y2="321.72" stroke="#000" stroke-width="1.1" stroke-opacity="0.66"/>
<line x1="230" y1="326.7" x2="230" y2="315.16" stroke="#000" stroke-width="1.1" stroke-opacity="0.66"/>
<line x1="232.6" y1="326.7" x2="232.6" y2="321.72" stroke="#000" stroke-width="1.1" stroke-opacity="0.66"/>
<line x1="234.6" y1="326.7" x2="234.6" y2="321.72" stroke="#000" stroke-width="1.1" stroke-opacity="0.66"/>
<line x1="236.9" y1="326.7" x2="236.9" y2="318.44" stroke="#000" stroke-width="1.1" stroke-opacity="0.66"/>
<line x1="246.6" y1="326.7" x2="246.6" y2="321.72" stroke="#000" stroke-width="1.1" stroke-opacity="0.66"/>
<line x1="250" y1="326.7" x2="250" y2="315.16" stroke="#000" stroke-width="1.1" stroke-opacity="0.66"/>
<line x1="251.1" y1="326.7" x2="251.1" y2="318.44" stroke="#000" stroke-width="1.1" stroke-opacity="0.66"/>
<line x1="253.4" y1="326.7" x2="253.4" y2="321.72" stroke="#000" stroke-width="1.1" stroke-opacity="0.66"/>
<line x1="254.6" y1="326.7" x2="254.6" y2="315.16" stroke="#000" stroke-width="1.1" stroke-opacity="0.66"/>
<line x1="266.6" y1="326.7" x2="266.6" y2="321.72" stroke="#000" stroke-width="1.1" stroke-opacity="0.66"/>
<line x1="270" y1="326.7" x2="270" y2="315.16" stroke="#000" stroke-width="1.1" stroke-opacity="0.66"/>
<line x1="271.1" y1="326.7" x2="271.1" y2="321.72" stroke="#000" stroke-width="1.1" stroke-opacity="0.66"/>
<line x1="272" y1="326.7" x2="272" y2="315.16" stroke="#000" stroke-width="1.1" stroke-opacity="0.66"/>
<line x1="280.5" y1="326.7" x2="280.5" y2="321.72" stroke="#000" stroke-width="1.1" stroke-opacity="0.66"/>
<line x1="282" y1="326.7" x2="282" y2="321.72" stroke="#000" stroke-width="1.1" stroke-opacity="0.66"/>
<line x1="283.1" y1="326.7" x2="283.1" y2="321.72" stroke="#000" stroke-width="1.1" stroke-opacity="0.66"/>
<line x1="286.5" y1="326.7" x2="286.5" y2="321.72" stroke="#000" stroke-width="1.1" stroke-opacity="0.66"/>
<line x1="282.6" y1="326.7" x2="282.6" y2="321.72" stroke="#000" stroke-width="1.1" stroke-opacity="0.66"/>
<line x1="286.4" y1="326.7" x2="286.4" y2="321.72" stroke="#000" stroke-width="1.1" stroke-opacity="0.66"/>
<line x1="291.8" y1="326.7" x2="291.8" y2="321.72" stroke="#000" stroke-width="1.1" stroke-opacity="0.66"/>
<line x1="293" y1="326.7" x2="293" y2="318.44" stroke="#000" stroke-width="1.1" stroke-opacity="0.66"/>
<line x1="295.2" y1="326.7" x2="295.2" y2="308.6" stroke="#000" stroke-width="1.1" stroke-opacity="0.66"/>
<line x1="299.9" y1="326.7" x2="299.9" y2="282.36" stroke="#000" stroke-width="1.1" stroke-opacity="0.66"/>
<line x1="302" y1="326.7" x2="302" y2="321.72" stroke="#000" stroke-width="1.1" stroke-opacity="0.66"/>
<line x1="312.9" y1="326.7" x2="312.9" y2="321.72" stroke="#000" stroke-width="1.1" stroke-opacity="0.66"/>
<line x1="315.5" y1="326.7" x2="315.5" y2="321.72" stroke="#000" stroke-width="1.1" stroke-opacity="0.66"/>
<line x1="318.1" y1="326.7" x2="318.1" y2="321.72" stroke="#000" stroke-width="1.1" stroke-opacity="0.66"/>
<line x1="319.4" y1="326.7" x2="319.4" y2="305.32" stroke="#000" stroke-width="1.1" stroke-opacity="0.66"/>
<line x1="320.7" y1="326.7" x2="320.7" y2="318.44" stroke="#000" stroke-width="1.1" stroke-opacity="0.66"/>
<line x1="322.9" y1="326.7" x2="322.9" y2="311.88" stroke="#000" stroke-width="1.1" stroke-opacity="0.66"/>
<line x1="324.3" y1="326.7" x2="324.3" y2="321.72" stroke="#000" stroke-width="1.1" stroke-opacity="0.66"/>
<line x1="325.8" y1="326.7" x2="325.8" y2="321.72" stroke="#000" stroke-width="1.1" stroke-opacity="0.66"/>
<line x1="327.2" y1="326.7" x2="327.2" y2="308.6" stroke="#000" stroke-width="1.1" stroke-opacity="0.66"/>
<line x1="328.4" y1="326.7" x2="328.4" y2="321.72" stroke="#000" stroke-width="1.1" stroke-opacity="0.66"/>
<line x1="330.5" y1="326.7" x2="330.5" y2="252.84" stroke="#000" stroke-width="1.1" stroke-opacity="0.66"/>
<line x1="331.6" y1="326.7" x2="331.6" y2="315.16" stroke="#000" stroke-width="1.1" stroke-opacity="0.66"/>
<line x1="341.4" y1="326.7" x2="341.4" y2="315.16" stroke="#000" stroke-width="1.1" stroke-opacity="0.66"/>
<line x1="342.6" y1="326.7" x2="342.6" y2="321.72" stroke="#000" stroke-width="1.1" stroke-opacity="0.66"/>
<line x1="346.3" y1="326.7" x2="346.3" y2="321.72" stroke="#000" stroke-width="1.1" stroke-opacity="0.66"/>
<line x1="357.2" y1="326.7" x2="357.2" y2="302.04" stroke="#000" stroke-width="1.1" stroke-opacity="0.66"/>
<line x1="358.2" y1="326.7" x2="358.2" y2="285.64" stroke="#000" stroke-width="1.1" stroke-opacity="0.66"/>
<line x1="359.2" y1="326.7" x2="359.2" y2="321.72" stroke="#000" stroke-width="1.1" stroke-opacity="0.66"/>
<line x1="360.5" y1="326.7" x2="360.5" y2="311.88" stroke="#000" stroke-width="1.1" stroke-opacity="0.66"/>
<line x1="361.2" y1="326.7" x2="361.2" y2="318.44" stroke="#000" stroke-width="1.1" stroke-opacity="0.66"/>
<line x1="362.6" y1="326.7" x2="362.6" y2="318.44" stroke="#000" stroke-width="1.1" stroke-opacity="0.66"/>
<line x1="364" y1="326.7" x2="364" y2="318.44" stroke="#000" stroke-width="1.1" stroke-opacity="0.66"/>
<line x1="365.5" y1="326.7" x2="365.5" y2="318.44" stroke="#000" stroke-width="1.1" stroke-opacity="0.66"/>
<line x1="367.2" y1="326.7" x2="367.2" y2="315.16" stroke="#000" stroke-width="1.1" stroke-opacity="0.66"/>
<line x1="368.5" y1="326.7" x2="368.5" y2="318.44" stroke="#000" stroke-width="1.1" stroke-opacity="0.66"/>
<line x1="370" y1="326.7" x2="370" y2="318.44" stroke="#000" stroke-width="1.1" stroke-opacity="0.66"/>
<line x1="372.8" y1="326.7" x2="372.8" y2="318.44" stroke="#000" stroke-width="1.1" stroke-opacity="0.66"/>
<line x1="377.1" y1="326.7" x2="377.1" y2="321.72" stroke="#000" stroke-width="1.1" stroke-opacity="0.66"/>
<line x1="410.2" y1="326.7" x2="410.2" y2="321.72" stroke="#000" stroke-width="1.1" stroke-opacity="0.66"/>
<line x1="428.9" y1="326.7" x2="428.9" y2="321.72" stroke="#000" stroke-width="1.1" stroke-opacity="0.66"/>
<line x1="108.7" y1="332.1" x2="108.7" y2="336.6" stroke="#000" stroke-width="1.1" stroke-opacity="0.66"/>
<line x1="118.3" y1="332.1" x2="118.3" y2="336.6" stroke="#000" stroke-width="1.1" stroke-opacity="0.66"/>
<line x1="137.1" y1="332.1" x2="137.1" y2="336.6" stroke="#000" stroke-width="1.1" stroke-opacity="0.66"/>
<line x1="157.2" y1="332.1" x2="157.2" y2="336.6" stroke="#000" stroke-width="1.1" stroke-opacity="0.66"/>
<line x1="162.6" y1="332.1" x2="162.6" y2="336.6" stroke="#000" stroke-width="1.1" stroke-opacity="0.66"/>
<line x1="174.6" y1="332.1" x2="174.6" y2="336.6" stroke="#000" stroke-width="1.1" stroke-opacity="0.66"/>
<line x1="206.6" y1="332.1" x2="206.6" y2="336.6" stroke="#000" stroke-width="1.1" stroke-opacity="0.66"/>
<line x1="210.5" y1="332.1" x2="210.5" y2="336.6" stroke="#000" stroke-width="1.1" stroke-opacity="0.66"/>
<line x1="215.6" y1="332.1" x2="215.6" y2="336.6" stroke="#000" stroke-width="1.1" stroke-opacity="0.66"/>
<line x1="217.7" y1="332.1" x2="217.7" y2="336.6" stroke="#000" stroke-width="1.1" stroke-opacity="0.66"/>
<line x1="225.4" y1="332.1" x2="225.4" y2="343.2" stroke="#000" stroke-width="1.1" stroke-opacity="0.66"/>
<line x1="226.6" y1="332.1" x2="226.6" y2="336.6" stroke="#000" stroke-width="1.1" stroke-opacity="0.66"/>
<line x1="231.1" y1="332.1" x2="231.1" y2="336.6" stroke="#000" stroke-width="1.1" stroke-opacity="0.66"/>
<line x1="241.1" y1="332.1" x2="241.1" y2="339.90000000000003" stroke="#000" stroke-width="1.1" stroke-opacity="0.66"/>
<line x1="258.8" y1="332.1" x2="258.8" y2="336.6" stroke="#000" stroke-width="1.1" stroke-opacity="0.66"/>
<line x1="268.5" y1="332.1" x2="268.5" y2="336.6" stroke="#000" stroke-width="1.1" stroke-opacity="0.66"/>
<line x1="278.5" y1="332.1" x2="278.5" y2="336.6" stroke="#000" stroke-width="1.1" stroke-opacity="0.66"/>
<line x1="280.3" y1="332.1" x2="280.3" y2="336.6" stroke="#000" stroke-width="1.1" stroke-opacity="0.66"/>
<line x1="282.3" y1="332.1" x2="282.3" y2="336.6" stroke="#000" stroke-width="1.1" stroke-opacity="0.66"/>
<line x1="284.5" y1="332.1" x2="284.5" y2="336.6" stroke="#000" stroke-width="1.1" stroke-opacity="0.66"/>
<line x1="290.7" y1="332.1" x2="290.7" y2="336.6" stroke="#000" stroke-width="1.1" stroke-opacity="0.66"/>
<line x1="292.1" y1="332.1" x2="292.1" y2="336.6" stroke="#000" stroke-width="1.1" stroke-opacity="0.66"/>
<line x1="304.2" y1="332.1" x2="304.2" y2="336.6" stroke="#000" stroke-width="1.1" stroke-opacity="0.66"/>
<line x1="315.1" y1="332.1" x2="315.1" y2="336.6" stroke="#000" stroke-width="1.1" stroke-opacity="0.66"/>
<line x1="320.7" y1="332.1" x2="320.7" y2="336.6" stroke="#000" stroke-width="1.1" stroke-opacity="0.66"/>
<line x1="323.8" y1="332.1" x2="323.8" y2="336.6" stroke="#000" stroke-width="1.1" stroke-opacity="0.66"/>
<line x1="324.5" y1="332.1" x2="324.5" y2="339.90000000000003" stroke="#000" stroke-width="1.1" stroke-opacity="0.66"/>
<line x1="326.4" y1="332.1" x2="326.4" y2="336.6" stroke="#000" stroke-width="1.1" stroke-opacity="0.66"/>
<line x1="339.3" y1="332.1" x2="339.3" y2="336.6" stroke="#000" stroke-width="1.1" stroke-opacity="0.66"/>
<line x1="344.9" y1="332.1" x2="344.9" y2="336.6" stroke="#000" stroke-width="1.1" stroke-opacity="0.66"/>
<line x1="346.3" y1="332.1" x2="346.3" y2="336.6" stroke="#000" stroke-width="1.1" stroke-opacity="0.66"/>
<line x1="390.3" y1="332.1" x2="390.3" y2="336.6" stroke="#000" stroke-width="1.1" stroke-opacity="0.66"/>
<line x1="423.4" y1="332.1" x2="423.4" y2="336.6" stroke="#000" stroke-width="1.1" stroke-opacity="0.66"/>
<line x1="427.2" y1="332.1" x2="427.2" y2="336.6" stroke="#000" stroke-width="1.1" stroke-opacity="0.66"/>
<line x1="428.5" y1="332.1" x2="428.5" y2="336.6" stroke="#000" stroke-width="1.1" stroke-opacity="0.66"/>
<line x1="430" y1="332.1" x2="430" y2="336.6" stroke="#000" stroke-width="1.1" stroke-opacity="0.66"/>
<line x1="431.5" y1="332.1" x2="431.5" y2="336.6" stroke="#000" stroke-width="1.1" stroke-opacity="0.66"/>
<line x1="434.6" y1="332.1" x2="434.6" y2="339.90000000000003" stroke="#000" stroke-width="1.1" stroke-opacity="0.66"/>
<rect x="54.20" y="326.20" width="45.20" height="6.40" fill="#ffd700"/>
<rect x="99.40" y="326.20" width="21.20" height="6.40" fill="#ffdab9"/>
<rect x="120.60" y="326.20" width="35.90" height="6.40" fill="#c0c0c0"/>
<rect x="156.50" y="326.20" width="219.70" height="6.40" fill="#fa8072"/>
<rect x="376.20" y="326.20" width="36.10" height="6.40" fill="#b0c4de"/>
<rect x="412.30" y="326.20" width="31.10" height="6.40" fill="#d8bfd8"/>
<rect x="443.40" y="326.20" width="50.00" height="6.40" fill="#ffc0cb"/>
<text x="77" y="331.9" font-size="6.9" text-anchor="middle" fill="#111" stroke="#111" stroke-width="0.15">TAD1</text>
<text x="110" y="331.9" font-size="6.9" text-anchor="middle" fill="#111" stroke="#111" stroke-width="0.15">TAD2</text>
<text x="138.8" y="331.9" font-size="6.9" text-anchor="middle" fill="#111" stroke="#111" stroke-width="0.15">PRR</text>
<text x="266.2" y="331.9" font-size="6.9" text-anchor="middle" fill="#111" stroke="#111" stroke-width="0.15">DBD</text>
<text x="394.3" y="331.9" font-size="6.9" text-anchor="middle" fill="#111" stroke="#111" stroke-width="0.15">HD</text>
<text x="428" y="331.9" font-size="6.9" text-anchor="middle" fill="#111" stroke="#111" stroke-width="0.15">OD</text>
<text x="468.4" y="331.9" font-size="6.9" text-anchor="middle" fill="#111" stroke="#111" stroke-width="0.15">CTD</text>
<circle cx="65.40" cy="321.72" r="1.7" fill="#ff0000"/>
<circle cx="108.70" cy="321.72" r="1.7" fill="#ff0000"/>
<circle cx="165.10" cy="321.72" r="1.7" fill="#ff0000"/>
<circle cx="172.50" cy="321.72" r="1.7" fill="#ff0000"/>
<circle cx="189.20" cy="321.72" r="1.7" fill="#ff0000"/>
<circle cx="201.20" cy="321.72" r="1.7" fill="#ff0000"/>
<circle cx="202.30" cy="321.72" r="1.7" fill="#ff0000"/>
<circle cx="203.80" cy="321.72" r="1.7" fill="#ff0000"/>
<circle cx="205.40" cy="321.72" r="1.7" fill="#ff0000"/>
<circle cx="206.60" cy="315.16" r="1.7" fill="#ff0000"/>
<circle cx="208.80" cy="318.44" r="1.7" fill="#ff0000"/>
<circle cx="212.30" cy="315.16" r="1.7" fill="#ff0000"/>
<circle cx="214.90" cy="315.16" r="1.7" fill="#ff0000"/>
<circle cx="223.40" cy="321.72" r="1.7" fill="#ff0000"/>
<circle cx="226.90" cy="321.72" r="1.7" fill="#ff0000"/>
<circle cx="230.00" cy="315.16" r="1.7" fill="#ff0000"/>
<circle cx="232.60" cy="321.72" r="1.7" fill="#ff0000"/>
<circle cx="234.60" cy="321.72" r="1.7" fill="#ff0000"/>
<circle cx="236.90" cy="318.44" r="1.7" fill="#ff0000"/>
<circle cx="246.60" cy="321.72" r="1.7" fill="#ff0000"/>
<circle cx="250.00" cy="315.16" r="1.7" fill="#ff0000"/>
<circle cx="251.10" cy="318.44" r="1.7" fill="#ff0000"/>
<circle cx="253.40" cy="321.72" r="1.7" fill="#ff0000"/>
<circle cx="254.60" cy="315.16" r="1.7" fill="#ff0000"/>
<circle cx="266.60" cy="321.72" r="1.7" fill="#ff0000"/>
<circle cx="270.00" cy="315.16" r="1.7" fill="#ff0000"/>
<circle cx="271.10" cy="321.72" r="1.7" fill="#ff0000"/>
<circle cx="272.00" cy="315.16" r="1.7" fill="#ff0000"/>
<circle cx="280.50" cy="321.72" r="1.7" fill="#ff0000"/>
<circle cx="282.00" cy="321.72" r="1.7" fill="#ff0000"/>
<circle cx="283.10" cy="321.72" r="1.7" fill="#ff0000"/>
<circle cx="286.50" cy="321.72" r="1.7" fill="#ff0000"/>
<circle cx="282.60" cy="321.72" r="1.7" fill="#ff0000"/>
<circle cx="286.40" cy="321.72" r="1.7" fill="#ff0000"/>
<circle cx="291.80" cy="321.72" r="1.7" fill="#ff0000"/>
<circle cx="293.00" cy="318.44" r="1.7" fill="#ff0000"/>
<circle cx="295.20" cy="308.60" r="1.7" fill="#ff0000"/>
<circle cx="299.90" cy="282.36" r="1.7" fill="#ff0000"/>
<circle cx="302.00" cy="321.72" r="1.7" fill="#ff0000"/>
<circle cx="312.90" cy="321.72" r="1.7" fill="#ff0000"/>
<circle cx="315.50" cy="321.72" r="1.7" fill="#ff0000"/>
<circle cx="318.10" cy="321.72" r="1.7" fill="#ff0000"/>
<circle cx="319.40" cy="305.32" r="1.7" fill="#ff0000"/>
<circle cx="320.70" cy="318.44" r="1.7" fill="#ff0000"/>
<circle cx="322.90" cy="311.88" r="1.7" fill="#ff0000"/>
<circle cx="324.30" cy="321.72" r="1.7" fill="#ff0000"/>
<circle cx="325.80" cy="321.72" r="1.7" fill="#ff0000"/>
<circle cx="327.20" cy="308.60" r="1.7" fill="#ff0000"/>
<circle cx="328.40" cy="321.72" r="1.7" fill="#ff0000"/>
<circle cx="330.50" cy="252.84" r="1.7" fill="#ff0000"/>
<circle cx="331.60" cy="315.16" r="1.7" fill="#ff0000"/>
<circle cx="341.40" cy="315.16" r="1.7" fill="#ff0000"/>
<circle cx="342.60" cy="321.72" r="1.7" fill="#ff0000"/>
<circle cx="346.30" cy="321.72" r="1.7" fill="#ff0000"/>
<circle cx="357.20" cy="302.04" r="1.7" fill="#ff0000"/>
<circle cx="358.20" cy="285.64" r="1.7" fill="#ff0000"/>
<circle cx="359.20" cy="321.72" r="1.7" fill="#ff0000"/>
<circle cx="360.50" cy="311.88" r="1.7" fill="#ff0000"/>
<circle cx="361.20" cy="318.44" r="1.7" fill="#ff0000"/>
<circle cx="362.60" cy="318.44" r="1.7" fill="#ff0000"/>
<circle cx="364.00" cy="318.44" r="1.7" fill="#ff0000"/>
<circle cx="365.50" cy="318.44" r="1.7" fill="#ff0000"/>
<circle cx="367.20" cy="315.16" r="1.7" fill="#ff0000"/>
<circle cx="368.50" cy="318.44" r="1.7" fill="#ff0000"/>
<circle cx="370.00" cy="318.44" r="1.7" fill="#ff0000"/>
<circle cx="372.80" cy="318.44" r="1.7" fill="#ff0000"/>
<circle cx="377.10" cy="321.72" r="1.7" fill="#ff0000"/>
<circle cx="410.20" cy="321.72" r="1.7" fill="#ff0000"/>
<circle cx="428.90" cy="321.72" r="1.7" fill="#ff0000"/>
<circle cx="108.70" cy="336.60" r="1.7" fill="#0000ff"/>
<circle cx="118.30" cy="336.60" r="1.7" fill="#0000ff"/>
<circle cx="137.10" cy="336.60" r="1.7" fill="#0000ff"/>
<circle cx="157.20" cy="336.60" r="1.7" fill="#00873c"/>
<circle cx="162.60" cy="336.60" r="1.7" fill="#0000ff"/>
<circle cx="174.60" cy="336.60" r="1.7" fill="#0000ff"/>
<circle cx="206.60" cy="336.60" r="1.7" fill="#00873c"/>
<circle cx="210.50" cy="336.60" r="1.7" fill="#00873c"/>
<circle cx="215.60" cy="336.60" r="1.7" fill="#0000ff"/>
<circle cx="217.70" cy="336.60" r="1.7" fill="#00873c"/>
<circle cx="225.40" cy="343.20" r="1.7" fill="#0000ff"/>
<circle cx="226.60" cy="336.60" r="1.7" fill="#0000ff"/>
<circle cx="231.10" cy="336.60" r="1.7" fill="#0000ff"/>
<circle cx="241.10" cy="339.90" r="1.7" fill="#00873c"/>
<circle cx="258.80" cy="336.60" r="1.7" fill="#00873c"/>
<circle cx="268.50" cy="336.60" r="1.7" fill="#00873c"/>
<circle cx="278.50" cy="336.60" r="1.7" fill="#00873c"/>
<circle cx="280.30" cy="336.60" r="1.7" fill="#00ced1"/>
<circle cx="282.30" cy="336.60" r="1.7" fill="#00873c"/>
<circle cx="284.50" cy="336.60" r="1.7" fill="#00873c"/>
<circle cx="290.70" cy="336.60" r="1.7" fill="#0000ff"/>
<circle cx="292.10" cy="336.60" r="1.7" fill="#0000ff"/>
<circle cx="304.20" cy="336.60" r="1.7" fill="#00ced1"/>
<circle cx="315.10" cy="336.60" r="1.7" fill="#0000ff"/>
<circle cx="320.70" cy="336.60" r="1.7" fill="#00873c"/>
<circle cx="323.80" cy="336.60" r="1.7" fill="#00873c"/>
<circle cx="324.50" cy="339.90" r="1.7" fill="#0000ff"/>
<circle cx="326.40" cy="336.60" r="1.7" fill="#0000ff"/>
<circle cx="339.30" cy="336.60" r="1.7" fill="#0000ff"/>
<circle cx="344.90" cy="336.60" r="1.7" fill="#0000ff"/>
<circle cx="346.30" cy="336.60" r="1.7" fill="#00ced1"/>
<circle cx="390.30" cy="336.60" r="1.7" fill="#0000ff"/>
<circle cx="423.40" cy="336.60" r="1.7" fill="#0000ff"/>
<circle cx="427.20" cy="336.60" r="1.7" fill="#0000ff"/>
<circle cx="428.50" cy="336.60" r="1.7" fill="#0000ff"/>
<circle cx="430.00" cy="336.60" r="1.7" fill="#0000ff"/>
<circle cx="431.50" cy="336.60" r="1.7" fill="#0000ff"/>
<circle cx="434.60" cy="339.90" r="1.7" fill="#00873c"/>
<text x="330.5" y="248.4" font-size="5.6" text-anchor="middle" fill="#222">R248</text>
<text x="299.9" y="277.8" font-size="5.6" text-anchor="middle" fill="#222">Y220</text>
<text x="358.2" y="281.3" font-size="5.6" text-anchor="middle" fill="#222">R273</text>
<text x="225.7" y="352.0" font-size="5.6" text-anchor="middle" fill="#222">P153</text>
<text x="7.2" y="388" font-size="15.2" font-weight="bold" fill="#000">C</text>
<line x1="29.4" y1="395" x2="29.4" y2="489.59999999999997" stroke="#0a0a0a" stroke-width="1.6"/>
<line x1="28.599999999999998" y1="488.9" x2="511.99999999999994" y2="488.9" stroke="#0a0a0a" stroke-width="1.5"/>
<line x1="26.1" y1="404.5" x2="29.4" y2="404.5" stroke="#111" stroke-width="1.1"/>
<text x="22.9" y="407.1" font-size="7.9" text-anchor="end" fill="#2a2a2a">10.0</text>
<line x1="26.1" y1="417" x2="29.4" y2="417" stroke="#111" stroke-width="1.1"/>
<text x="22.9" y="419.6" font-size="7.9" text-anchor="end" fill="#2a2a2a">7.5</text>
<line x1="26.1" y1="429.5" x2="29.4" y2="429.5" stroke="#111" stroke-width="1.1"/>
<text x="22.9" y="432.1" font-size="7.9" text-anchor="end" fill="#2a2a2a">5.0</text>
<line x1="26.1" y1="441.8" x2="29.4" y2="441.8" stroke="#111" stroke-width="1.1"/>
<text x="22.9" y="444.40000000000003" font-size="7.9" text-anchor="end" fill="#2a2a2a">2.5</text>
<line x1="26.1" y1="454.2" x2="29.4" y2="454.2" stroke="#111" stroke-width="1.1"/>
<text x="22.9" y="456.8" font-size="7.9" text-anchor="end" fill="#2a2a2a">0.0</text>
<line x1="26.1" y1="466.4" x2="29.4" y2="466.4" stroke="#111" stroke-width="1.1"/>
<text x="22.9" y="469.0" font-size="7.9" text-anchor="end" fill="#2a2a2a">−2.5</text>
<line x1="26.1" y1="478.9" x2="29.4" y2="478.9" stroke="#111" stroke-width="1.1"/>
<text x="22.9" y="481.5" font-size="7.9" text-anchor="end" fill="#2a2a2a">−5.0</text>
<line x1="56.400000000000006" y1="488.9" x2="56.400000000000006" y2="491.7" stroke="#111" stroke-width="1.1"/>
<text x="56.400000000000006" y="501.0" font-size="8.2" text-anchor="middle" fill="#262626">0</text>
<line x1="111.525" y1="488.9" x2="111.525" y2="491.7" stroke="#111" stroke-width="1.1"/>
<text x="111.525" y="501.0" font-size="8.2" text-anchor="middle" fill="#262626">50</text>
<line x1="166.65" y1="488.9" x2="166.65" y2="491.7" stroke="#111" stroke-width="1.1"/>
<text x="166.65" y="501.0" font-size="8.2" text-anchor="middle" fill="#262626">100</text>
<line x1="221.775" y1="488.9" x2="221.775" y2="491.7" stroke="#111" stroke-width="1.1"/>
<text x="221.775" y="501.0" font-size="8.2" text-anchor="middle" fill="#262626">150</text>
<line x1="276.9" y1="488.9" x2="276.9" y2="491.7" stroke="#111" stroke-width="1.1"/>
<text x="276.9" y="501.0" font-size="8.2" text-anchor="middle" fill="#262626">200</text>
<line x1="332.025" y1="488.9" x2="332.025" y2="491.7" stroke="#111" stroke-width="1.1"/>
<text x="332.025" y="501.0" font-size="8.2" text-anchor="middle" fill="#262626">250</text>
<line x1="387.15" y1="488.9" x2="387.15" y2="491.7" stroke="#111" stroke-width="1.1"/>
<text x="387.15" y="501.0" font-size="8.2" text-anchor="middle" fill="#262626">300</text>
<line x1="442.275" y1="488.9" x2="442.275" y2="491.7" stroke="#111" stroke-width="1.1"/>
<text x="442.275" y="501.0" font-size="8.2" text-anchor="middle" fill="#262626">350</text>
<line x1="497.4" y1="488.9" x2="497.4" y2="491.7" stroke="#111" stroke-width="1.1"/>
<text x="497.4" y="501.0" font-size="8.2" text-anchor="middle" fill="#262626">400</text>
<line x1="53.9" y1="398.8" x2="53.9" y2="448.2" stroke="#1e1e1e" stroke-width="1.7"/>
<line x1="52.1" y1="423.5" x2="55.699999999999996" y2="423.5" stroke="#1e1e1e" stroke-width="1"/>
<line x1="50.699999999999996" y1="398.8" x2="57.1" y2="398.8" stroke="#1e1e1e" stroke-width="1.1"/>
<line x1="50.699999999999996" y1="448.2" x2="57.1" y2="448.2" stroke="#1e1e1e" stroke-width="1.1"/>
<text x="48" y="401.40000000000003" font-size="8.6" text-anchor="end" fill="#2a2a2a">10</text>
<text x="48" y="450.8" font-size="8.6" text-anchor="end" fill="#2a2a2a">0</text>
<line x1="53.9" y1="460.3" x2="53.9" y2="484.6" stroke="#1e1e1e" stroke-width="1.7"/>
<line x1="50.699999999999996" y1="460.3" x2="57.1" y2="460.3" stroke="#1e1e1e" stroke-width="1.1"/>
<line x1="50.699999999999996" y1="484.6" x2="57.1" y2="484.6" stroke="#1e1e1e" stroke-width="1.1"/>
<text x="48" y="462.90000000000003" font-size="8.6" text-anchor="end" fill="#2a2a2a">0</text>
<text x="48" y="487.0" font-size="8.6" text-anchor="end" fill="#2a2a2a">5</text>
<text x="78.2" y="410.4" font-size="10.2" textLength="135" lengthAdjust="spacingAndGlyphs" fill="#000">Frontline therapy-related AML</text>
<line x1="178.5" y1="451.2" x2="178.5" y2="438.40000000000003" stroke="#000" stroke-width="1.1" stroke-opacity="0.66"/>
<line x1="179.4" y1="451.2" x2="179.4" y2="443.35" stroke="#000" stroke-width="1.1" stroke-opacity="0.66"/>
<line x1="202.8" y1="451.2" x2="202.8" y2="438.40000000000003" stroke="#000" stroke-width="1.1" stroke-opacity="0.66"/>
<line x1="205.4" y1="451.2" x2="205.4" y2="438.40000000000003" stroke="#000" stroke-width="1.1" stroke-opacity="0.66"/>
<line x1="206.2" y1="451.2" x2="206.2" y2="443.35" stroke="#000" stroke-width="1.1" stroke-opacity="0.66"/>
<line x1="207.6" y1="451.2" x2="207.6" y2="443.35" stroke="#000" stroke-width="1.1" stroke-opacity="0.66"/>
<line x1="209.7" y1="451.2" x2="209.7" y2="443.35" stroke="#000" stroke-width="1.1" stroke-opacity="0.66"/>
<line x1="213.2" y1="451.2" x2="213.2" y2="443.35" stroke="#000" stroke-width="1.1" stroke-opacity="0.66"/>
<line x1="225.2" y1="451.2" x2="225.2" y2="443.35" stroke="#000" stroke-width="1.1" stroke-opacity="0.66"/>
<line x1="229.5" y1="451.2" x2="229.5" y2="443.35" stroke="#000" stroke-width="1.1" stroke-opacity="0.66"/>
<line x1="230.8" y1="451.2" x2="230.8" y2="443.35" stroke="#000" stroke-width="1.1" stroke-opacity="0.66"/>
<line x1="233.1" y1="451.2" x2="233.1" y2="438.40000000000003" stroke="#000" stroke-width="1.1" stroke-opacity="0.66"/>
<line x1="237.6" y1="451.2" x2="237.6" y2="438.40000000000003" stroke="#000" stroke-width="1.1" stroke-opacity="0.66"/>
<line x1="248.4" y1="451.2" x2="248.4" y2="443.35" stroke="#000" stroke-width="1.1" stroke-opacity="0.66"/>
<line x1="250.7" y1="451.2" x2="250.7" y2="433.45" stroke="#000" stroke-width="1.1" stroke-opacity="0.66"/>
<line x1="254.2" y1="451.2" x2="254.2" y2="433.45" stroke="#000" stroke-width="1.1" stroke-opacity="0.66"/>
<line x1="255.2" y1="451.2" x2="255.2" y2="443.35" stroke="#000" stroke-width="1.1" stroke-opacity="0.66"/>
<line x1="270.6" y1="451.2" x2="270.6" y2="433.45" stroke="#000" stroke-width="1.1" stroke-opacity="0.66"/>
<line x1="272" y1="451.2" x2="272" y2="443.35" stroke="#000" stroke-width="1.1" stroke-opacity="0.66"/>
<line x1="272.9" y1="451.2" x2="272.9" y2="438.40000000000003" stroke="#000" stroke-width="1.1" stroke-opacity="0.66"/>
<line x1="284.1" y1="451.2" x2="284.1" y2="443.35" stroke="#000" stroke-width="1.1" stroke-opacity="0.66"/>
<line x1="300.6" y1="451.2" x2="300.6" y2="433.45" stroke="#000" stroke-width="1.1" stroke-opacity="0.66"/>
<line x1="316.1" y1="451.2" x2="316.1" y2="438.40000000000003" stroke="#000" stroke-width="1.1" stroke-opacity="0.66"/>
<line x1="316.9" y1="451.2" x2="316.9" y2="443.35" stroke="#000" stroke-width="1.1" stroke-opacity="0.66"/>
<line x1="318.1" y1="451.2" x2="318.1" y2="443.35" stroke="#000" stroke-width="1.1" stroke-opacity="0.66"/>
<line x1="319.5" y1="451.2" x2="319.5" y2="438.40000000000003" stroke="#000" stroke-width="1.1" stroke-opacity="0.66"/>
<line x1="321.6" y1="451.2" x2="321.6" y2="438.40000000000003" stroke="#000" stroke-width="1.1" stroke-opacity="0.66"/>
<line x1="325.1" y1="451.2" x2="325.1" y2="443.35" stroke="#000" stroke-width="1.1" stroke-opacity="0.66"/>
<line x1="327.3" y1="451.2" x2="327.3" y2="438.40000000000003" stroke="#000" stroke-width="1.1" stroke-opacity="0.66"/>
<line x1="328.5" y1="451.2" x2="328.5" y2="433.45" stroke="#000" stroke-width="1.1" stroke-opacity="0.66"/>
<line x1="330.8" y1="451.2" x2="330.8" y2="443.35" stroke="#000" stroke-width="1.1" stroke-opacity="0.66"/>
<line x1="331.6" y1="451.2" x2="331.6" y2="403.75" stroke="#000" stroke-width="1.1" stroke-opacity="0.66"/>
<line x1="332.8" y1="451.2" x2="332.8" y2="443.35" stroke="#000" stroke-width="1.1" stroke-opacity="0.66"/>
<line x1="352.7" y1="451.2" x2="352.7" y2="443.35" stroke="#000" stroke-width="1.1" stroke-opacity="0.66"/>
<line x1="358.4" y1="451.2" x2="358.4" y2="433.45" stroke="#000" stroke-width="1.1" stroke-opacity="0.66"/>
<line x1="359.7" y1="451.2" x2="359.7" y2="428.5" stroke="#000" stroke-width="1.1" stroke-opacity="0.66"/>
<line x1="364" y1="451.2" x2="364" y2="443.35" stroke="#000" stroke-width="1.1" stroke-opacity="0.66"/>
<line x1="365.7" y1="451.2" x2="365.7" y2="443.35" stroke="#000" stroke-width="1.1" stroke-opacity="0.66"/>
<line x1="367.1" y1="451.2" x2="367.1" y2="443.35" stroke="#000" stroke-width="1.1" stroke-opacity="0.66"/>
<line x1="368.5" y1="451.2" x2="368.5" y2="443.35" stroke="#000" stroke-width="1.1" stroke-opacity="0.66"/>
<line x1="369.7" y1="451.2" x2="369.7" y2="443.35" stroke="#000" stroke-width="1.1" stroke-opacity="0.66"/>
<line x1="406.3" y1="451.2" x2="406.3" y2="443.35" stroke="#000" stroke-width="1.1" stroke-opacity="0.66"/>
<line x1="430.6" y1="451.2" x2="430.6" y2="443.35" stroke="#000" stroke-width="1.1" stroke-opacity="0.66"/>
<line x1="450.7" y1="451.2" x2="450.7" y2="443.35" stroke="#000" stroke-width="1.1" stroke-opacity="0.66"/>
<line x1="218.4" y1="457.0" x2="218.4" y2="465.4" stroke="#000" stroke-width="1.1" stroke-opacity="0.66"/>
<line x1="225.2" y1="457.0" x2="225.2" y2="465.4" stroke="#000" stroke-width="1.1" stroke-opacity="0.66"/>
<line x1="226.2" y1="457.0" x2="226.2" y2="465.4" stroke="#000" stroke-width="1.1" stroke-opacity="0.66"/>
<line x1="227" y1="457.0" x2="227" y2="465.4" stroke="#000" stroke-width="1.1" stroke-opacity="0.66"/>
<line x1="255.2" y1="457.0" x2="255.2" y2="465.4" stroke="#000" stroke-width="1.1" stroke-opacity="0.66"/>
<line x1="274.1" y1="457.0" x2="274.1" y2="465.4" stroke="#000" stroke-width="1.1" stroke-opacity="0.66"/>
<line x1="292.8" y1="457.0" x2="292.8" y2="475.4" stroke="#000" stroke-width="1.1" stroke-opacity="0.66"/>
<line x1="309.6" y1="457.0" x2="309.6" y2="465.4" stroke="#000" stroke-width="1.1" stroke-opacity="0.66"/>
<line x1="325" y1="457.0" x2="325" y2="465.4" stroke="#000" stroke-width="1.1" stroke-opacity="0.66"/>
<line x1="336.3" y1="457.0" x2="336.3" y2="465.4" stroke="#000" stroke-width="1.1" stroke-opacity="0.66"/>
<line x1="382.7" y1="457.0" x2="382.7" y2="465.4" stroke="#000" stroke-width="1.1" stroke-opacity="0.66"/>
<line x1="386.1" y1="457.0" x2="386.1" y2="465.4" stroke="#000" stroke-width="1.1" stroke-opacity="0.66"/>
<line x1="426.4" y1="457.0" x2="426.4" y2="465.4" stroke="#000" stroke-width="1.1" stroke-opacity="0.66"/>
<line x1="436.1" y1="457.0" x2="436.1" y2="465.4" stroke="#000" stroke-width="1.1" stroke-opacity="0.66"/>
<line x1="437.6" y1="457.0" x2="437.6" y2="465.4" stroke="#000" stroke-width="1.1" stroke-opacity="0.66"/>
<rect x="54.20" y="450.70" width="45.40" height="6.80" fill="#ffd700"/>
<rect x="99.60" y="450.70" width="21.20" height="6.80" fill="#ffdab9"/>
<rect x="120.80" y="450.70" width="36.10" height="6.80" fill="#c0c0c0"/>
<rect x="156.90" y="450.70" width="221.10" height="6.80" fill="#fa8072"/>
<rect x="378.00" y="450.70" width="36.80" height="6.80" fill="#b0c4de"/>
<rect x="414.80" y="450.70" width="30.80" height="6.80" fill="#d8bfd8"/>
<rect x="445.60" y="450.70" width="50.20" height="6.80" fill="#ffc0cb"/>
<text x="76.7" y="456.6" font-size="6.9" text-anchor="middle" fill="#111" stroke="#111" stroke-width="0.15">TAD1</text>
<text x="110.3" y="456.6" font-size="6.9" text-anchor="middle" fill="#111" stroke="#111" stroke-width="0.15">TAD2</text>
<text x="138.5" y="456.6" font-size="6.9" text-anchor="middle" fill="#111" stroke="#111" stroke-width="0.15">PRR</text>
<text x="266.3" y="456.6" font-size="6.9" text-anchor="middle" fill="#111" stroke="#111" stroke-width="0.15">DBD</text>
<text x="394.5" y="456.6" font-size="6.9" text-anchor="middle" fill="#111" stroke="#111" stroke-width="0.15">HD</text>
<text x="428.1" y="456.6" font-size="6.9" text-anchor="middle" fill="#111" stroke="#111" stroke-width="0.15">OD</text>
<text x="468.4" y="456.6" font-size="6.9" text-anchor="middle" fill="#111" stroke="#111" stroke-width="0.15">CTD</text>
<circle cx="178.50" cy="438.40" r="1.7" fill="#ff0000"/>
<circle cx="179.40" cy="443.35" r="1.7" fill="#ff0000"/>
<circle cx="202.80" cy="438.40" r="1.7" fill="#ff0000"/>
<circle cx="205.40" cy="438.40" r="1.7" fill="#ff0000"/>
<circle cx="206.20" cy="443.35" r="1.7" fill="#ff0000"/>
<circle cx="207.60" cy="443.35" r="1.7" fill="#ff0000"/>
<circle cx="209.70" cy="443.35" r="1.7" fill="#ff0000"/>
<circle cx="213.20" cy="443.35" r="1.7" fill="#ff0000"/>
<circle cx="225.20" cy="443.35" r="1.7" fill="#ff0000"/>
<circle cx="229.50" cy="443.35" r="1.7" fill="#ff0000"/>
<circle cx="230.80" cy="443.35" r="1.7" fill="#ff0000"/>
<circle cx="233.10" cy="438.40" r="1.7" fill="#ff0000"/>
<circle cx="237.60" cy="438.40" r="1.7" fill="#ff0000"/>
<circle cx="248.40" cy="443.35" r="1.7" fill="#ff0000"/>
<circle cx="250.70" cy="433.45" r="1.7" fill="#ff0000"/>
<circle cx="254.20" cy="433.45" r="1.7" fill="#ff0000"/>
<circle cx="255.20" cy="443.35" r="1.7" fill="#ff0000"/>
<circle cx="270.60" cy="433.45" r="1.7" fill="#ff0000"/>
<circle cx="272.00" cy="443.35" r="1.7" fill="#ff0000"/>
<circle cx="272.90" cy="438.40" r="1.7" fill="#ff0000"/>
<circle cx="284.10" cy="443.35" r="1.7" fill="#ff0000"/>
<circle cx="300.60" cy="433.45" r="1.7" fill="#ff0000"/>
<circle cx="316.10" cy="438.40" r="1.7" fill="#ff0000"/>
<circle cx="316.90" cy="443.35" r="1.7" fill="#ff0000"/>
<circle cx="318.10" cy="443.35" r="1.7" fill="#ff0000"/>
<circle cx="319.50" cy="438.40" r="1.7" fill="#ff0000"/>
<circle cx="321.60" cy="438.40" r="1.7" fill="#ff0000"/>
<circle cx="325.10" cy="443.35" r="1.7" fill="#ff0000"/>
<circle cx="327.30" cy="438.40" r="1.7" fill="#ff0000"/>
<circle cx="328.50" cy="433.45" r="1.7" fill="#ff0000"/>
<circle cx="330.80" cy="443.35" r="1.7" fill="#ff0000"/>
<circle cx="331.60" cy="403.75" r="1.7" fill="#ff0000"/>
<circle cx="332.80" cy="443.35" r="1.7" fill="#ff0000"/>
<circle cx="352.70" cy="443.35" r="1.7" fill="#ff0000"/>
<circle cx="358.40" cy="433.45" r="1.7" fill="#ff0000"/>
<circle cx="359.70" cy="428.50" r="1.7" fill="#ff0000"/>
<circle cx="364.00" cy="443.35" r="1.7" fill="#ff0000"/>
<circle cx="365.70" cy="443.35" r="1.7" fill="#ff0000"/>
<circle cx="367.10" cy="443.35" r="1.7" fill="#ff0000"/>
<circle cx="368.50" cy="443.35" r="1.7" fill="#ff0000"/>
<circle cx="369.70" cy="443.35" r="1.7" fill="#ff0000"/>
<circle cx="406.30" cy="443.35" r="1.7" fill="#ff0000"/>
<circle cx="430.60" cy="443.35" r="1.7" fill="#ff0000"/>
<circle cx="450.70" cy="443.35" r="1.7" fill="#ff0000"/>
<circle cx="218.40" cy="465.40" r="1.7" fill="#00873c"/>
<circle cx="225.20" cy="465.40" r="1.7" fill="#00ced1"/>
<circle cx="226.20" cy="465.40" r="1.7" fill="#0000ff"/>
<circle cx="227.00" cy="465.40" r="1.7" fill="#0000ff"/>
<circle cx="255.20" cy="465.40" r="1.7" fill="#00ced1"/>
<circle cx="274.10" cy="465.40" r="1.7" fill="#00873c"/>
<circle cx="292.80" cy="475.40" r="1.7" fill="#00873c"/>
<circle cx="309.60" cy="465.40" r="1.7" fill="#00873c"/>
<circle cx="325.00" cy="465.40" r="1.7" fill="#00ced1"/>
<circle cx="336.30" cy="465.40" r="1.7" fill="#00ced1"/>
<circle cx="382.70" cy="465.40" r="1.7" fill="#00873c"/>
<circle cx="386.10" cy="465.40" r="1.7" fill="#0000ff"/>
<circle cx="426.40" cy="465.40" r="1.7" fill="#0000ff"/>
<circle cx="436.10" cy="465.40" r="1.7" fill="#00873c"/>
<circle cx="437.60" cy="465.40" r="1.7" fill="#0000ff"/>
<text x="331.6" y="400.7" font-size="5.6" text-anchor="middle" fill="#222">R248</text>
<text x="359.5" y="424.0" font-size="5.6" text-anchor="middle" fill="#222">R273</text>
<text x="292.8" y="483.2" font-size="5.6" text-anchor="middle" fill="#222">R213</text>
<text x="7.2" y="522.5" font-size="15.2" font-weight="bold" fill="#000">D</text>
<line x1="29.4" y1="528.75" x2="29.4" y2="647.7" stroke="#0a0a0a" stroke-width="1.6"/>
<line x1="28.599999999999998" y1="647" x2="512.8" y2="647" stroke="#0a0a0a" stroke-width="1.5"/>
<line x1="26.1" y1="538.75" x2="29.4" y2="538.75" stroke="#111" stroke-width="1.1"/>
<text x="23.0" y="541.4" font-size="8.3" text-anchor="end" fill="#2a2a2a">15</text>
<line x1="26.1" y1="563.25" x2="29.4" y2="563.25" stroke="#111" stroke-width="1.1"/>
<text x="23.0" y="565.9" font-size="8.3" text-anchor="end" fill="#2a2a2a">10</text>
<line x1="26.1" y1="587.6" x2="29.4" y2="587.6" stroke="#111" stroke-width="1.1"/>
<text x="23.0" y="590.25" font-size="8.3" text-anchor="end" fill="#2a2a2a">5</text>
<line x1="26.1" y1="612" x2="29.4" y2="612" stroke="#111" stroke-width="1.1"/>
<text x="23.0" y="614.65" font-size="8.3" text-anchor="end" fill="#2a2a2a">0</text>
<line x1="26.1" y1="636.3" x2="29.4" y2="636.3" stroke="#111" stroke-width="1.1"/>
<text x="23.0" y="638.9499999999999" font-size="8.3" text-anchor="end" fill="#2a2a2a">−5</text>
<line x1="57.2" y1="647" x2="57.2" y2="649.8" stroke="#111" stroke-width="1.1"/>
<text x="57.2" y="659.1" font-size="8.2" text-anchor="middle" fill="#262626">0</text>
<line x1="112.325" y1="647" x2="112.325" y2="649.8" stroke="#111" stroke-width="1.1"/>
<text x="112.325" y="659.1" font-size="8.2" text-anchor="middle" fill="#262626">50</text>
<line x1="167.45" y1="647" x2="167.45" y2="649.8" stroke="#111" stroke-width="1.1"/>
<text x="167.45" y="659.1" font-size="8.2" text-anchor="middle" fill="#262626">100</text>
<line x1="222.575" y1="647" x2="222.575" y2="649.8" stroke="#111" stroke-width="1.1"/>
<text x="222.575" y="659.1" font-size="8.2" text-anchor="middle" fill="#262626">150</text>
<line x1="277.7" y1="647" x2="277.7" y2="649.8" stroke="#111" stroke-width="1.1"/>
<text x="277.7" y="659.1" font-size="8.2" text-anchor="middle" fill="#262626">200</text>
<line x1="332.825" y1="647" x2="332.825" y2="649.8" stroke="#111" stroke-width="1.1"/>
<text x="332.825" y="659.1" font-size="8.2" text-anchor="middle" fill="#262626">250</text>
<line x1="387.95" y1="647" x2="387.95" y2="649.8" stroke="#111" stroke-width="1.1"/>
<text x="387.95" y="659.1" font-size="8.2" text-anchor="middle" fill="#262626">300</text>
<line x1="443.075" y1="647" x2="443.075" y2="649.8" stroke="#111" stroke-width="1.1"/>
<text x="443.075" y="659.1" font-size="8.2" text-anchor="middle" fill="#262626">350</text>
<line x1="498.2" y1="647" x2="498.2" y2="649.8" stroke="#111" stroke-width="1.1"/>
<text x="498.2" y="659.1" font-size="8.2" text-anchor="middle" fill="#262626">400</text>
<line x1="53.5" y1="534.5" x2="53.5" y2="607" stroke="#1e1e1e" stroke-width="1.7"/>
<line x1="51.7" y1="558.75" x2="55.3" y2="558.75" stroke="#1e1e1e" stroke-width="1"/>
<line x1="51.7" y1="583" x2="55.3" y2="583" stroke="#1e1e1e" stroke-width="1"/>
<line x1="50.3" y1="534.5" x2="56.7" y2="534.5" stroke="#1e1e1e" stroke-width="1.1"/>
<line x1="50.3" y1="607" x2="56.7" y2="607" stroke="#1e1e1e" stroke-width="1.1"/>
<text x="48" y="536.6" font-size="8.6" text-anchor="end" fill="#2a2a2a">15</text>
<text x="48" y="609.6" font-size="8.6" text-anchor="end" fill="#2a2a2a">0</text>
<line x1="53.5" y1="616.75" x2="53.5" y2="641.25" stroke="#1e1e1e" stroke-width="1.7"/>
<line x1="50.3" y1="616.75" x2="56.7" y2="616.75" stroke="#1e1e1e" stroke-width="1.1"/>
<line x1="50.3" y1="641.25" x2="56.7" y2="641.25" stroke="#1e1e1e" stroke-width="1.1"/>
<text x="48" y="619.35" font-size="8.6" text-anchor="end" fill="#2a2a2a">0</text>
<text x="48" y="643.65" font-size="8.6" text-anchor="end" fill="#2a2a2a">5</text>
<text x="74.9" y="544.3" font-size="10.2" textLength="131.7" lengthAdjust="spacingAndGlyphs" fill="#000">Salvage patients, all subtypes</text>
<line x1="108.4" y1="609.4" x2="108.4" y2="602.17" stroke="#000" stroke-width="1.1" stroke-opacity="0.66"/>
<line x1="123.8" y1="609.4" x2="123.8" y2="602.17" stroke="#000" stroke-width="1.1" stroke-opacity="0.66"/>
<line x1="172.4" y1="609.4" x2="172.4" y2="602.17" stroke="#000" stroke-width="1.1" stroke-opacity="0.66"/>
<line x1="189.3" y1="609.4" x2="189.3" y2="602.17" stroke="#000" stroke-width="1.1" stroke-opacity="0.66"/>
<line x1="194.5" y1="609.4" x2="194.5" y2="602.17" stroke="#000" stroke-width="1.1" stroke-opacity="0.66"/>
<line x1="195.7" y1="609.4" x2="195.7" y2="602.17" stroke="#000" stroke-width="1.1" stroke-opacity="0.66"/>
<line x1="202.3" y1="609.4" x2="202.3" y2="597.34" stroke="#000" stroke-width="1.1" stroke-opacity="0.66"/>
<line x1="205.4" y1="609.4" x2="205.4" y2="592.51" stroke="#000" stroke-width="1.1" stroke-opacity="0.66"/>
<line x1="207.5" y1="609.4" x2="207.5" y2="602.17" stroke="#000" stroke-width="1.1" stroke-opacity="0.66"/>
<line x1="209.2" y1="609.4" x2="209.2" y2="602.17" stroke="#000" stroke-width="1.1" stroke-opacity="0.66"/>
<line x1="210.4" y1="609.4" x2="210.4" y2="602.17" stroke="#000" stroke-width="1.1" stroke-opacity="0.66"/>
<line x1="212.3" y1="609.4" x2="212.3" y2="597.34" stroke="#000" stroke-width="1.1" stroke-opacity="0.66"/>
<line x1="214.7" y1="609.4" x2="214.7" y2="592.51" stroke="#000" stroke-width="1.1" stroke-opacity="0.66"/>
<line x1="217" y1="609.4" x2="217" y2="602.17" stroke="#000" stroke-width="1.1" stroke-opacity="0.66"/>
<line x1="221.4" y1="609.4" x2="221.4" y2="602.17" stroke="#000" stroke-width="1.1" stroke-opacity="0.66"/>
<line x1="223.6" y1="609.4" x2="223.6" y2="602.17" stroke="#000" stroke-width="1.1" stroke-opacity="0.66"/>
<line x1="224.6" y1="609.4" x2="224.6" y2="602.17" stroke="#000" stroke-width="1.1" stroke-opacity="0.66"/>
<line x1="228" y1="609.4" x2="228" y2="602.17" stroke="#000" stroke-width="1.1" stroke-opacity="0.66"/>
<line x1="230" y1="609.4" x2="230" y2="597.34" stroke="#000" stroke-width="1.1" stroke-opacity="0.66"/>
<line x1="229.4" y1="609.4" x2="229.4" y2="597.34" stroke="#000" stroke-width="1.1" stroke-opacity="0.66"/>
<line x1="236.9" y1="609.4" x2="236.9" y2="602.17" stroke="#000" stroke-width="1.1" stroke-opacity="0.66"/>
<line x1="242" y1="609.4" x2="242" y2="597.34" stroke="#000" stroke-width="1.1" stroke-opacity="0.66"/>
<line x1="247.7" y1="609.4" x2="247.7" y2="597.34" stroke="#000" stroke-width="1.1" stroke-opacity="0.66"/>
<line x1="250" y1="609.4" x2="250" y2="578.02" stroke="#000" stroke-width="1.1" stroke-opacity="0.66"/>
<line x1="250" y1="609.4" x2="250" y2="587.68" stroke="#000" stroke-width="1.1" stroke-opacity="0.66"/>
<line x1="251.2" y1="609.4" x2="251.2" y2="592.51" stroke="#000" stroke-width="1.1" stroke-opacity="0.66"/>
<line x1="251.5" y1="609.4" x2="251.5" y2="602.17" stroke="#000" stroke-width="1.1" stroke-opacity="0.66"/>
<line x1="253.1" y1="609.4" x2="253.1" y2="602.17" stroke="#000" stroke-width="1.1" stroke-opacity="0.66"/>
<line x1="254.6" y1="609.4" x2="254.6" y2="597.34" stroke="#000" stroke-width="1.1" stroke-opacity="0.66"/>
<line x1="256.9" y1="609.4" x2="256.9" y2="597.34" stroke="#000" stroke-width="1.1" stroke-opacity="0.66"/>
<line x1="266.5" y1="609.4" x2="266.5" y2="602.17" stroke="#000" stroke-width="1.1" stroke-opacity="0.66"/>
<line x1="270" y1="609.4" x2="270" y2="602.17" stroke="#000" stroke-width="1.1" stroke-opacity="0.66"/>
<line x1="271.2" y1="609.4" x2="271.2" y2="602.17" stroke="#000" stroke-width="1.1" stroke-opacity="0.66"/>
<line x1="272.3" y1="609.4" x2="272.3" y2="597.34" stroke="#000" stroke-width="1.1" stroke-opacity="0.66"/>
<line x1="274.2" y1="609.4" x2="274.2" y2="602.17" stroke="#000" stroke-width="1.1" stroke-opacity="0.66"/>
<line x1="291.6" y1="609.4" x2="291.6" y2="602.17" stroke="#000" stroke-width="1.1" stroke-opacity="0.66"/>
<line x1="293.1" y1="609.4" x2="293.1" y2="602.17" stroke="#000" stroke-width="1.1" stroke-opacity="0.66"/>
<line x1="294.3" y1="609.4" x2="294.3" y2="602.17" stroke="#000" stroke-width="1.1" stroke-opacity="0.66"/>
<line x1="295.5" y1="609.4" x2="295.5" y2="597.34" stroke="#000" stroke-width="1.1" stroke-opacity="0.66"/>
<line x1="297.4" y1="609.4" x2="297.4" y2="597.34" stroke="#000" stroke-width="1.1" stroke-opacity="0.66"/>
<line x1="299" y1="609.4" x2="299" y2="597.34" stroke="#000" stroke-width="1.1" stroke-opacity="0.66"/>
<line x1="299.6" y1="609.4" x2="299.6" y2="578.02" stroke="#000" stroke-width="1.1" stroke-opacity="0.66"/>
<line x1="317.3" y1="609.4" x2="317.3" y2="597.34" stroke="#000" stroke-width="1.1" stroke-opacity="0.66"/>
<line x1="317.3" y1="609.4" x2="317.3" y2="602.17" stroke="#000" stroke-width="1.1" stroke-opacity="0.66"/>
<line x1="319.8" y1="609.4" x2="319.8" y2="602.17" stroke="#000" stroke-width="1.1" stroke-opacity="0.66"/>
<line x1="323.2" y1="609.4" x2="323.2" y2="602.17" stroke="#000" stroke-width="1.1" stroke-opacity="0.66"/>
<line x1="323.4" y1="609.4" x2="323.4" y2="592.51" stroke="#000" stroke-width="1.1" stroke-opacity="0.66"/>
<line x1="326" y1="609.4" x2="326" y2="602.17" stroke="#000" stroke-width="1.1" stroke-opacity="0.66"/>
<line x1="327.2" y1="609.4" x2="327.2" y2="582.85" stroke="#000" stroke-width="1.1" stroke-opacity="0.66"/>
<line x1="327.7" y1="609.4" x2="327.7" y2="597.34" stroke="#000" stroke-width="1.1" stroke-opacity="0.66"/>
<line x1="330.7" y1="609.4" x2="330.7" y2="539.38" stroke="#000" stroke-width="1.1" stroke-opacity="0.66"/>
<line x1="330.7" y1="609.4" x2="330.7" y2="587.68" stroke="#000" stroke-width="1.1" stroke-opacity="0.66"/>
<line x1="332" y1="609.4" x2="332" y2="597.34" stroke="#000" stroke-width="1.1" stroke-opacity="0.66"/>
<line x1="338.8" y1="609.4" x2="338.8" y2="597.34" stroke="#000" stroke-width="1.1" stroke-opacity="0.66"/>
<line x1="350.9" y1="609.4" x2="350.9" y2="602.17" stroke="#000" stroke-width="1.1" stroke-opacity="0.66"/>
<line x1="356.3" y1="609.4" x2="356.3" y2="602.17" stroke="#000" stroke-width="1.1" stroke-opacity="0.66"/>
<line x1="357.5" y1="609.4" x2="357.5" y2="597.34" stroke="#000" stroke-width="1.1" stroke-opacity="0.66"/>
<line x1="358.5" y1="609.4" x2="358.5" y2="573.19" stroke="#000" stroke-width="1.1" stroke-opacity="0.66"/>
<line x1="358.3" y1="609.4" x2="358.3" y2="592.51" stroke="#000" stroke-width="1.1" stroke-opacity="0.66"/>
<line x1="359.2" y1="609.4" x2="359.2" y2="602.17" stroke="#000" stroke-width="1.1" stroke-opacity="0.66"/>
<line x1="360.6" y1="609.4" x2="360.6" y2="597.34" stroke="#000" stroke-width="1.1" stroke-opacity="0.66"/>
<line x1="362.7" y1="609.4" x2="362.7" y2="592.51" stroke="#000" stroke-width="1.1" stroke-opacity="0.66"/>
<line x1="363.9" y1="609.4" x2="363.9" y2="597.34" stroke="#000" stroke-width="1.1" stroke-opacity="0.66"/>
<line x1="364.7" y1="609.4" x2="364.7" y2="602.17" stroke="#000" stroke-width="1.1" stroke-opacity="0.66"/>
<line x1="366.1" y1="609.4" x2="366.1" y2="587.68" stroke="#000" stroke-width="1.1" stroke-opacity="0.66"/>
<line x1="367.3" y1="609.4" x2="367.3" y2="592.51" stroke="#000" stroke-width="1.1" stroke-opacity="0.66"/>
<line x1="368.7" y1="609.4" x2="368.7" y2="597.34" stroke="#000" stroke-width="1.1" stroke-opacity="0.66"/>
<line x1="369.6" y1="609.4" x2="369.6" y2="602.17" stroke="#000" stroke-width="1.1" stroke-opacity="0.66"/>
<line x1="371.4" y1="609.4" x2="371.4" y2="602.17" stroke="#000" stroke-width="1.1" stroke-opacity="0.66"/>
<line x1="373.4" y1="609.4" x2="373.4" y2="602.17" stroke="#000" stroke-width="1.1" stroke-opacity="0.66"/>
<line x1="415" y1="609.4" x2="415" y2="602.17" stroke="#000" stroke-width="1.1" stroke-opacity="0.66"/>
<line x1="425.75" y1="609.4" x2="425.75" y2="602.17" stroke="#000" stroke-width="1.1" stroke-opacity="0.66"/>
<line x1="429.25" y1="609.4" x2="429.25" y2="602.17" stroke="#000" stroke-width="1.1" stroke-opacity="0.66"/>
<line x1="444.5" y1="609.4" x2="444.5" y2="602.17" stroke="#000" stroke-width="1.1" stroke-opacity="0.66"/>
<line x1="91.7" y1="615.0" x2="91.7" y2="621.65" stroke="#000" stroke-width="1.1" stroke-opacity="0.66"/>
<line x1="137.4" y1="615.0" x2="137.4" y2="621.65" stroke="#000" stroke-width="1.1" stroke-opacity="0.66"/>
<line x1="140.2" y1="615.0" x2="140.2" y2="621.65" stroke="#000" stroke-width="1.1" stroke-opacity="0.66"/>
<line x1="176.3" y1="615.0" x2="176.3" y2="621.65" stroke="#000" stroke-width="1.1" stroke-opacity="0.66"/>
<line x1="179.4" y1="615.0" x2="179.4" y2="621.65" stroke="#000" stroke-width="1.1" stroke-opacity="0.66"/>
<line x1="200.9" y1="615.0" x2="200.9" y2="621.65" stroke="#000" stroke-width="1.1" stroke-opacity="0.66"/>
<line x1="207" y1="615.0" x2="207" y2="621.65" stroke="#000" stroke-width="1.1" stroke-opacity="0.66"/>
<line x1="224.6" y1="615.0" x2="224.6" y2="621.65" stroke="#000" stroke-width="1.1" stroke-opacity="0.66"/>
<line x1="225.6" y1="615.0" x2="225.6" y2="621.65" stroke="#000" stroke-width="1.1" stroke-opacity="0.66"/>
<line x1="240.8" y1="615.0" x2="240.8" y2="626.55" stroke="#000" stroke-width="1.1" stroke-opacity="0.66"/>
<line x1="251.2" y1="615.0" x2="251.2" y2="621.65" stroke="#000" stroke-width="1.1" stroke-opacity="0.66"/>
<line x1="273.5" y1="615.0" x2="273.5" y2="621.65" stroke="#000" stroke-width="1.1" stroke-opacity="0.66"/>
<line x1="273.5" y1="615.0" x2="273.5" y2="626.55" stroke="#000" stroke-width="1.1" stroke-opacity="0.66"/>
<line x1="283.1" y1="615.0" x2="283.1" y2="621.65" stroke="#000" stroke-width="1.1" stroke-opacity="0.66"/>
<line x1="290.5" y1="615.0" x2="290.5" y2="621.65" stroke="#000" stroke-width="1.1" stroke-opacity="0.66"/>
<line x1="292" y1="615.0" x2="292" y2="621.65" stroke="#000" stroke-width="1.1" stroke-opacity="0.66"/>
<line x1="292" y1="615.0" x2="292" y2="631.45" stroke="#000" stroke-width="1.1" stroke-opacity="0.66"/>
<line x1="300.7" y1="615.0" x2="300.7" y2="621.65" stroke="#000" stroke-width="1.1" stroke-opacity="0.66"/>
<line x1="306.4" y1="615.0" x2="306.4" y2="621.65" stroke="#000" stroke-width="1.1" stroke-opacity="0.66"/>
<line x1="317.3" y1="615.0" x2="317.3" y2="621.65" stroke="#000" stroke-width="1.1" stroke-opacity="0.66"/>
<line x1="335.3" y1="615.0" x2="335.3" y2="621.65" stroke="#000" stroke-width="1.1" stroke-opacity="0.66"/>
<line x1="369.6" y1="615.0" x2="369.6" y2="621.65" stroke="#000" stroke-width="1.1" stroke-opacity="0.66"/>
<line x1="399.25" y1="615.0" x2="399.25" y2="621.65" stroke="#000" stroke-width="1.1" stroke-opacity="0.66"/>
<line x1="407" y1="615.0" x2="407" y2="621.65" stroke="#000" stroke-width="1.1" stroke-opacity="0.66"/>
<line x1="421.25" y1="615.0" x2="421.25" y2="621.65" stroke="#000" stroke-width="1.1" stroke-opacity="0.66"/>
<line x1="434.5" y1="615.0" x2="434.5" y2="631.45" stroke="#000" stroke-width="1.1" stroke-opacity="0.66"/>
<line x1="439.25" y1="615.0" x2="439.25" y2="621.65" stroke="#000" stroke-width="1.1" stroke-opacity="0.66"/>
<rect x="54.20" y="608.90" width="45.40" height="6.60" fill="#ffd700"/>
<rect x="99.60" y="608.90" width="21.20" height="6.60" fill="#ffdab9"/>
<rect x="120.80" y="608.90" width="36.00" height="6.60" fill="#c0c0c0"/>
<rect x="156.80" y="608.90" width="220.20" height="6.60" fill="#fa8072"/>
<rect x="377.00" y="608.90" width="36.75" height="6.60" fill="#b0c4de"/>
<rect x="413.75" y="608.90" width="30.75" height="6.60" fill="#d8bfd8"/>
<rect x="444.50" y="608.90" width="50.00" height="6.60" fill="#ffc0cb"/>
<text x="77" y="614.7" font-size="6.9" text-anchor="middle" fill="#111" stroke="#111" stroke-width="0.15">TAD1</text>
<text x="110.2" y="614.7" font-size="6.9" text-anchor="middle" fill="#111" stroke="#111" stroke-width="0.15">TAD2</text>
<text x="139" y="614.7" font-size="6.9" text-anchor="middle" fill="#111" stroke="#111" stroke-width="0.15">PRR</text>
<text x="266.5" y="614.7" font-size="6.9" text-anchor="middle" fill="#111" stroke="#111" stroke-width="0.15">DBD</text>
<text x="394.4" y="614.7" font-size="6.9" text-anchor="middle" fill="#111" stroke="#111" stroke-width="0.15">HD</text>
<text x="427.9" y="614.7" font-size="6.9" text-anchor="middle" fill="#111" stroke="#111" stroke-width="0.15">OD</text>
<text x="468.4" y="614.7" font-size="6.9" text-anchor="middle" fill="#111" stroke="#111" stroke-width="0.15">CTD</text>
<path d="M108.40 599.87L110.70 602.17L108.40 604.47L106.10 602.17Z" fill="#ff0000"/>
<path d="M123.80 599.87L126.10 602.17L123.80 604.47L121.50 602.17Z" fill="#ff0000"/>
<path d="M172.40 599.87L174.70 602.17L172.40 604.47L170.10 602.17Z" fill="#ff0000"/>
<path d="M189.30 599.87L191.60 602.17L189.30 604.47L187.00 602.17Z" fill="#ff0000"/>
<path d="M194.50 599.87L196.80 602.17L194.50 604.47L192.20 602.17Z" fill="#ff0000"/>
<path d="M195.70 599.87L198.00 602.17L195.70 604.47L193.40 602.17Z" fill="#ff0000"/>
<path d="M202.30 595.04L204.60 597.34L202.30 599.64L200.00 597.34Z" fill="#ff0000"/>
<path d="M205.40 590.21L207.70 592.51L205.40 594.81L203.10 592.51Z" fill="#ff0000"/>
<path d="M207.50 599.87L209.80 602.17L207.50 604.47L205.20 602.17Z" fill="#ff0000"/>
<path d="M209.20 599.87L211.50 602.17L209.20 604.47L206.90 602.17Z" fill="#ff0000"/>
<path d="M210.40 599.87L212.70 602.17L210.40 604.47L208.10 602.17Z" fill="#ff0000"/>
<path d="M212.30 595.04L214.60 597.34L212.30 599.64L210.00 597.34Z" fill="#ff0000"/>
<path d="M214.70 590.21L217.00 592.51L214.70 594.81L212.40 592.51Z" fill="#ff0000"/>
<path d="M217.00 599.87L219.30 602.17L217.00 604.47L214.70 602.17Z" fill="#ff0000"/>
<path d="M221.40 599.87L223.70 602.17L221.40 604.47L219.10 602.17Z" fill="#ff0000"/>
<path d="M223.60 599.87L225.90 602.17L223.60 604.47L221.30 602.17Z" fill="#ff0000"/>
<path d="M224.60 599.87L226.90 602.17L224.60 604.47L222.30 602.17Z" fill="#ff0000"/>
<path d="M228.00 599.87L230.30 602.17L228.00 604.47L225.70 602.17Z" fill="#ff0000"/>
<path d="M230.00 595.04L232.30 597.34L230.00 599.64L227.70 597.34Z" fill="#ff0000"/>
<path d="M229.40 595.04L231.70 597.34L229.40 599.64L227.10 597.34Z" fill="#ff0000"/>
<path d="M236.90 599.87L239.20 602.17L236.90 604.47L234.60 602.17Z" fill="#ff0000"/>
<path d="M242.00 595.04L244.30 597.34L242.00 599.64L239.70 597.34Z" fill="#ff0000"/>
<path d="M247.70 595.04L250.00 597.34L247.70 599.64L245.40 597.34Z" fill="#ff0000"/>
<path d="M250.00 575.72L252.30 578.02L250.00 580.32L247.70 578.02Z" fill="#ff0000"/>
<path d="M250.00 585.38L252.30 587.68L250.00 589.98L247.70 587.68Z" fill="#ff0000"/>
<path d="M251.20 590.21L253.50 592.51L251.20 594.81L248.90 592.51Z" fill="#ff0000"/>
<path d="M251.50 599.87L253.80 602.17L251.50 604.47L249.20 602.17Z" fill="#ff0000"/>
<path d="M253.10 599.87L255.40 602.17L253.10 604.47L250.80 602.17Z" fill="#ff0000"/>
<path d="M254.60 595.04L256.90 597.34L254.60 599.64L252.30 597.34Z" fill="#ff0000"/>
<path d="M256.90 595.04L259.20 597.34L256.90 599.64L254.60 597.34Z" fill="#ff0000"/>
<path d="M266.50 599.87L268.80 602.17L266.50 604.47L264.20 602.17Z" fill="#ff0000"/>
<path d="M270.00 599.87L272.30 602.17L270.00 604.47L267.70 602.17Z" fill="#ff0000"/>
<path d="M271.20 599.87L273.50 602.17L271.20 604.47L268.90 602.17Z" fill="#ff0000"/>
<path d="M272.30 595.04L274.60 597.34L272.30 599.64L270.00 597.34Z" fill="#ff0000"/>
<path d="M274.20 599.87L276.50 602.17L274.20 604.47L271.90 602.17Z" fill="#ff0000"/>
<path d="M291.60 599.87L293.90 602.17L291.60 604.47L289.30 602.17Z" fill="#ff0000"/>
<path d="M293.10 599.87L295.40 602.17L293.10 604.47L290.80 602.17Z" fill="#ff0000"/>
<path d="M294.30 599.87L296.60 602.17L294.30 604.47L292.00 602.17Z" fill="#ff0000"/>
<path d="M295.50 595.04L297.80 597.34L295.50 599.64L293.20 597.34Z" fill="#ff0000"/>
<path d="M297.40 595.04L299.70 597.34L297.40 599.64L295.10 597.34Z" fill="#ff0000"/>
<path d="M299.00 595.04L301.30 597.34L299.00 599.64L296.70 597.34Z" fill="#ff0000"/>
<path d="M299.60 575.72L301.90 578.02L299.60 580.32L297.30 578.02Z" fill="#ff0000"/>
<path d="M317.30 595.04L319.60 597.34L317.30 599.64L315.00 597.34Z" fill="#ff0000"/>
<path d="M317.30 599.87L319.60 602.17L317.30 604.47L315.00 602.17Z" fill="#ff0000"/>
<path d="M319.80 599.87L322.10 602.17L319.80 604.47L317.50 602.17Z" fill="#ff0000"/>
<path d="M323.20 599.87L325.50 602.17L323.20 604.47L320.90 602.17Z" fill="#ff0000"/>
<path d="M323.40 590.21L325.70 592.51L323.40 594.81L321.10 592.51Z" fill="#ff0000"/>
<path d="M326.00 599.87L328.30 602.17L326.00 604.47L323.70 602.17Z" fill="#ff0000"/>
<path d="M327.20 580.55L329.50 582.85L327.20 585.15L324.90 582.85Z" fill="#ff0000"/>
<path d="M327.70 595.04L330.00 597.34L327.70 599.64L325.40 597.34Z" fill="#ff0000"/>
<path d="M330.70 537.08L333.00 539.38L330.70 541.68L328.40 539.38Z" fill="#ff0000"/>
<path d="M330.70 585.38L333.00 587.68L330.70 589.98L328.40 587.68Z" fill="#ff0000"/>
<path d="M332.00 595.04L334.30 597.34L332.00 599.64L329.70 597.34Z" fill="#ff0000"/>
<path d="M338.80 595.04L341.10 597.34L338.80 599.64L336.50 597.34Z" fill="#ff0000"/>
<path d="M350.90 599.87L353.20 602.17L350.90 604.47L348.60 602.17Z" fill="#ff0000"/>
<path d="M356.30 599.87L358.60 602.17L356.30 604.47L354.00 602.17Z" fill="#ff0000"/>
<path d="M357.50 595.04L359.80 597.34L357.50 599.64L355.20 597.34Z" fill="#ff0000"/>
<path d="M358.50 570.89L360.80 573.19L358.50 575.49L356.20 573.19Z" fill="#ff0000"/>
<path d="M358.30 590.21L360.60 592.51L358.30 594.81L356.00 592.51Z" fill="#ff0000"/>
<path d="M359.20 599.87L361.50 602.17L359.20 604.47L356.90 602.17Z" fill="#ff0000"/>
<path d="M360.60 595.04L362.90 597.34L360.60 599.64L358.30 597.34Z" fill="#ff0000"/>
<path d="M362.70 590.21L365.00 592.51L362.70 594.81L360.40 592.51Z" fill="#ff0000"/>
<path d="M363.90 595.04L366.20 597.34L363.90 599.64L361.60 597.34Z" fill="#ff0000"/>
<path d="M364.70 599.87L367.00 602.17L364.70 604.47L362.40 602.17Z" fill="#ff0000"/>
<path d="M366.10 585.38L368.40 587.68L366.10 589.98L363.80 587.68Z" fill="#ff0000"/>
<path d="M367.30 590.21L369.60 592.51L367.30 594.81L365.00 592.51Z" fill="#ff0000"/>
<path d="M368.70 595.04L371.00 597.34L368.70 599.64L366.40 597.34Z" fill="#ff0000"/>
<path d="M369.60 599.87L371.90 602.17L369.60 604.47L367.30 602.17Z" fill="#ff0000"/>
<path d="M371.40 599.87L373.70 602.17L371.40 604.47L369.10 602.17Z" fill="#ff0000"/>
<path d="M373.40 599.87L375.70 602.17L373.40 604.47L371.10 602.17Z" fill="#ff0000"/>
<path d="M415.00 599.87L417.30 602.17L415.00 604.47L412.70 602.17Z" fill="#ff0000"/>
<path d="M425.75 599.87L428.05 602.17L425.75 604.47L423.45 602.17Z" fill="#ff0000"/>
<path d="M429.25 599.87L431.55 602.17L429.25 604.47L426.95 602.17Z" fill="#ff0000"/>
<path d="M444.50 599.87L446.80 602.17L444.50 604.47L442.20 602.17Z" fill="#ff0000"/>
<path d="M91.70 619.35L94.00 621.65L91.70 623.95L89.40 621.65Z" fill="#0000ff"/>
<path d="M137.40 619.35L139.70 621.65L137.40 623.95L135.10 621.65Z" fill="#0000ff"/>
<path d="M140.20 619.35L142.50 621.65L140.20 623.95L137.90 621.65Z" fill="#0000ff"/>
<path d="M176.30 619.35L178.60 621.65L176.30 623.95L174.00 621.65Z" fill="#0000ff"/>
<path d="M179.40 619.35L181.70 621.65L179.40 623.95L177.10 621.65Z" fill="#0000ff"/>
<path d="M200.90 619.35L203.20 621.65L200.90 623.95L198.60 621.65Z" fill="#00ced1"/>
<path d="M207.00 619.35L209.30 621.65L207.00 623.95L204.70 621.65Z" fill="#00873c"/>
<path d="M224.60 619.35L226.90 621.65L224.60 623.95L222.30 621.65Z" fill="#0000ff"/>
<path d="M225.60 619.35L227.90 621.65L225.60 623.95L223.30 621.65Z" fill="#0000ff"/>
<path d="M240.80 624.25L243.10 626.55L240.80 628.85L238.50 626.55Z" fill="#00873c"/>
<path d="M251.20 619.35L253.50 621.65L251.20 623.95L248.90 621.65Z" fill="#0000ff"/>
<path d="M273.50 619.35L275.80 621.65L273.50 623.95L271.20 621.65Z" fill="#00873c"/>
<path d="M273.50 624.25L275.80 626.55L273.50 628.85L271.20 626.55Z" fill="#00873c"/>
<path d="M283.10 619.35L285.40 621.65L283.10 623.95L280.80 621.65Z" fill="#00873c"/>
<path d="M290.50 619.35L292.80 621.65L290.50 623.95L288.20 621.65Z" fill="#0000ff"/>
<path d="M292.00 619.35L294.30 621.65L292.00 623.95L289.70 621.65Z" fill="#00873c"/>
<path d="M292.00 629.15L294.30 631.45L292.00 633.75L289.70 631.45Z" fill="#00873c"/>
<path d="M300.70 619.35L303.00 621.65L300.70 623.95L298.40 621.65Z" fill="#00873c"/>
<path d="M306.40 619.35L308.70 621.65L306.40 623.95L304.10 621.65Z" fill="#0000ff"/>
<path d="M317.30 619.35L319.60 621.65L317.30 623.95L315.00 621.65Z" fill="#00873c"/>
<path d="M335.30 619.35L337.60 621.65L335.30 623.95L333.00 621.65Z" fill="#00ced1"/>
<path d="M369.60 619.35L371.90 621.65L369.60 623.95L367.30 621.65Z" fill="#0000ff"/>
<path d="M399.25 619.35L401.55 621.65L399.25 623.95L396.95 621.65Z" fill="#0000ff"/>
<path d="M407.00 619.35L409.30 621.65L407.00 623.95L404.70 621.65Z" fill="#00873c"/>
<path d="M421.25 619.35L423.55 621.65L421.25 623.95L418.95 621.65Z" fill="#0000ff"/>
<path d="M434.50 629.15L436.80 631.45L434.50 633.75L432.20 631.45Z" fill="#00873c"/>
<path d="M439.25 619.35L441.55 621.65L439.25 623.95L436.95 621.65Z" fill="#00873c"/>
<text x="330.7" y="534.8" font-size="5.6" text-anchor="middle" fill="#222">R248</text>
<text x="299.6" y="573.5" font-size="5.6" text-anchor="middle" fill="#222">Y220</text>
<text x="358.5" y="569.0" font-size="5.6" text-anchor="middle" fill="#222">R273</text>
<text x="250" y="573.1" font-size="5.6" text-anchor="middle" fill="#222">R175</text>
<text x="292" y="640.9" font-size="5.6" text-anchor="middle" fill="#222">R213</text>
<text x="435" y="641.25" font-size="5.6" text-anchor="middle" fill="#222">R342</text>
<circle cx="447" cy="36.5" r="1.5" fill="#ff0000"/>
<text x="451.7" y="39.0" font-size="7.8" textLength="31.7" lengthAdjust="spacingAndGlyphs" fill="#ff0000">Missense</text>
<circle cx="447" cy="48.4" r="1.5" fill="#00873c"/>
<text x="451.7" y="50.9" font-size="7.8" textLength="34.7" lengthAdjust="spacingAndGlyphs" fill="#00873c">Nonsense</text>
<circle cx="447" cy="60.4" r="1.5" fill="#0000ff"/>
<text x="451.7" y="62.9" font-size="7.8" textLength="37.3" lengthAdjust="spacingAndGlyphs" fill="#0000ff">Frameshift</text>
<circle cx="447" cy="72.0" r="1.5" fill="#00ced1"/>
<text x="451.7" y="74.5" font-size="7.8" textLength="30.1" lengthAdjust="spacingAndGlyphs" fill="#00ced1">Deletion</text>
<text x="7.6" y="680" font-size="15.2" font-weight="bold" fill="#000">E</text>
<line x1="53.3" y1="686.75" x2="53.3" y2="745.25" stroke="#111" stroke-width="1.8"/>
<line x1="51.5" y1="698.45" x2="55.099999999999994" y2="698.45" stroke="#111" stroke-width="1"/>
<line x1="51.5" y1="710.15" x2="55.099999999999994" y2="710.15" stroke="#111" stroke-width="1"/>
<line x1="51.5" y1="721.85" x2="55.099999999999994" y2="721.85" stroke="#111" stroke-width="1"/>
<line x1="51.5" y1="733.55" x2="55.099999999999994" y2="733.55" stroke="#111" stroke-width="1"/>
<line x1="50.0" y1="686.75" x2="56.599999999999994" y2="686.75" stroke="#111" stroke-width="1.3"/>
<line x1="50.0" y1="745.3" x2="56.599999999999994" y2="745.3" stroke="#111" stroke-width="1.3"/>
<text x="47.6" y="689.8" font-size="8.8" text-anchor="end" fill="#222">5</text>
<text x="47.6" y="748" font-size="8.8" text-anchor="end" fill="#222">0</text>
<line x1="64.5" y1="758.6" x2="443" y2="758.6" stroke="#111" stroke-width="1.5"/>
<line x1="112.5" y1="749.5" x2="112.5" y2="734.4" stroke="#757575" stroke-width="1.2"/>
<line x1="149" y1="749.5" x2="149" y2="734.4" stroke="#757575" stroke-width="1.2"/>
<line x1="167.6" y1="758.6" x2="167.6" y2="734.5" stroke="#6e7272" stroke-width="1.4"/>
<line x1="169.2" y1="758.6" x2="169.2" y2="721" stroke="#6e7272" stroke-width="1.3"/>
<line x1="184.8" y1="749.5" x2="184.8" y2="698.9" stroke="#777" stroke-width="1.2"/>
<line x1="205.1" y1="749.5" x2="205.1" y2="721.2" stroke="#777" stroke-width="1.2"/>
<line x1="220.8" y1="749.5" x2="220.8" y2="721.6" stroke="#777" stroke-width="1.2"/>
<line x1="238.6" y1="758.6" x2="238.6" y2="734.8" stroke="#8a8a8a" stroke-width="1.0"/>
<line x1="240.4" y1="758.6" x2="240.4" y2="734.8" stroke="#333" stroke-width="1.0"/>
<line x1="255.8" y1="749.5" x2="255.8" y2="721.2" stroke="#8c8c8c" stroke-width="1.2"/>
<line x1="276.4" y1="758.6" x2="276.4" y2="734.8" stroke="#111" stroke-width="1.2"/>
<line x1="278.0" y1="758.6" x2="278.0" y2="734.8" stroke="#111" stroke-width="1.2"/>
<line x1="398.4" y1="749.5" x2="398.4" y2="710" stroke="#777" stroke-width="1.2"/>
<line x1="419.8" y1="758.6" x2="419.8" y2="721.6" stroke="#777" stroke-width="1.2"/>
<line x1="439.2" y1="749.5" x2="439.2" y2="720.9" stroke="#777" stroke-width="1.2"/>
<rect x="64.20" y="749.20" width="8.30" height="19.20" fill="#000"/>
<rect x="84.20" y="749.20" width="8.30" height="19.20" fill="#ffd700"/>
<rect x="105.00" y="749.20" width="7.70" height="19.20" fill="#ffd700"/>
<rect x="128.25" y="749.20" width="3.75" height="19.20" fill="#ffd700"/>
<rect x="132.00" y="749.20" width="3.50" height="19.20" fill="#ffdab9"/>
<rect x="135.50" y="749.20" width="9.00" height="19.20" fill="#c0c0c0"/>
<rect x="144.50" y="749.20" width="4.75" height="19.20" fill="#ff9696"/>
<rect x="169.20" y="749.20" width="15.80" height="19.20" fill="#ff9696"/>
<rect x="205.50" y="749.20" width="15.25" height="19.20" fill="#ff9696"/>
<rect x="240.50" y="749.20" width="15.25" height="19.20" fill="#ff9696"/>
<rect x="278.00" y="749.20" width="12.00" height="19.20" fill="#ff9696"/>
<rect x="290.00" y="749.20" width="3.25" height="19.20" fill="#b0c4de"/>
<rect x="344.25" y="749.20" width="7.00" height="19.20" fill="#b0c4de"/>
<rect x="398.50" y="749.20" width="17.50" height="19.20" fill="#d0c4ff"/>
<rect x="416.00" y="749.20" width="2.70" height="19.20" fill="#fccde6"/>
<rect x="439.00" y="749.20" width="4.00" height="19.20" fill="#fccde6"/>
<rect x="443.00" y="749.20" width="60.75" height="19.20" fill="#000"/>
<text x="68.4" y="762.6" font-size="8.8" text-anchor="middle" fill="#fff">1</text>
<text x="88.4" y="762.6" font-size="8.8" text-anchor="middle" fill="#111">2</text>
<text x="108.9" y="762.6" font-size="8.8" text-anchor="middle" fill="#111">3</text>
<text x="139.3" y="762.6" font-size="8.8" text-anchor="middle" fill="#222">4</text>
<text x="177" y="762.6" font-size="8.8" text-anchor="middle" fill="#222">5</text>
<text x="213" y="762.6" font-size="8.8" text-anchor="middle" fill="#222">6</text>
<text x="248" y="762.6" font-size="8.8" text-anchor="middle" fill="#222">7</text>
<text x="283.8" y="762.6" font-size="8.8" text-anchor="middle" fill="#222">8</text>
<text x="347.6" y="762.6" font-size="8.8" text-anchor="middle" fill="#222">9</text>
<text x="408.8" y="762.6" font-size="8.8" text-anchor="middle" fill="#222">10</text>
<text x="470.8" y="762.6" font-size="8.8" text-anchor="middle" fill="#fff">11</text>
<circle cx="112.50" cy="734.40" r="2.5" fill="#9400d3"/>
<circle cx="149.00" cy="734.40" r="2.5" fill="#9400d3"/>
<circle cx="167.60" cy="734.50" r="2.5" fill="#9400d3"/>
<circle cx="169.20" cy="721.00" r="2.5" fill="#9400d3"/>
<circle cx="184.80" cy="698.90" r="2.5" fill="#9400d3"/>
<circle cx="205.10" cy="721.20" r="2.5" fill="#9400d3"/>
<circle cx="220.80" cy="721.60" r="2.5" fill="#9400d3"/>
<circle cx="238.60" cy="734.80" r="2.5" fill="#9400d3"/>
<circle cx="240.40" cy="734.80" r="2.5" fill="#9400d3"/>
<circle cx="255.80" cy="721.20" r="2.5" fill="#9400d3"/>
<circle cx="276.40" cy="734.80" r="2.5" fill="#9400d3"/>
<circle cx="278.00" cy="734.80" r="2.5" fill="#9400d3"/>
<circle cx="398.40" cy="710.00" r="2.5" fill="#9400d3"/>
<circle cx="419.80" cy="721.60" r="2.5" fill="#9400d3"/>
<circle cx="439.20" cy="720.90" r="2.5" fill="#9400d3"/>
<rect x="64.50" y="784.00" width="45.00" height="6.80" fill="#ffd700"/>
<rect x="109.50" y="784.00" width="21.00" height="6.80" fill="#ffdab9"/>
<rect x="130.50" y="784.00" width="36.00" height="6.80" fill="#c0c0c0"/>
<rect x="166.50" y="784.00" width="219.10" height="6.80" fill="#fa8072"/>
<rect x="385.60" y="784.00" width="35.90" height="6.80" fill="#b0c4de"/>
<rect x="421.50" y="784.00" width="31.20" height="6.80" fill="#d8bfd8"/>
<rect x="452.70" y="784.00" width="49.80" height="6.80" fill="#ffc0cb"/>
<text x="86.8" y="790.0" font-size="6.6" text-anchor="middle" fill="#222" stroke="#222" stroke-width="0.12">TAD1</text>
<text x="120" y="790.0" font-size="6.6" text-anchor="middle" fill="#222" stroke="#222" stroke-width="0.12">TAD2</text>
<text x="148.5" y="790.0" font-size="6.6" text-anchor="middle" fill="#222" stroke="#222" stroke-width="0.12">PRR</text>
<text x="275.9" y="790.0" font-size="6.6" text-anchor="middle" fill="#222" stroke="#222" stroke-width="0.12">DBD</text>
<text x="403.7" y="790.0" font-size="6.6" text-anchor="middle" fill="#222" stroke="#222" stroke-width="0.12">HD</text>
<text x="437.3" y="790.0" font-size="6.6" text-anchor="middle" fill="#222" stroke="#222" stroke-width="0.12">OD</text>
<text x="477.7" y="790.0" font-size="6.6" text-anchor="middle" fill="#222" stroke="#222" stroke-width="0.12">CTD</text>
<rect x="0.5" y="0.75" width="518.7" height="796.4" fill="none" stroke="#000" stroke-width="1.6"/>
</svg></body></html>
